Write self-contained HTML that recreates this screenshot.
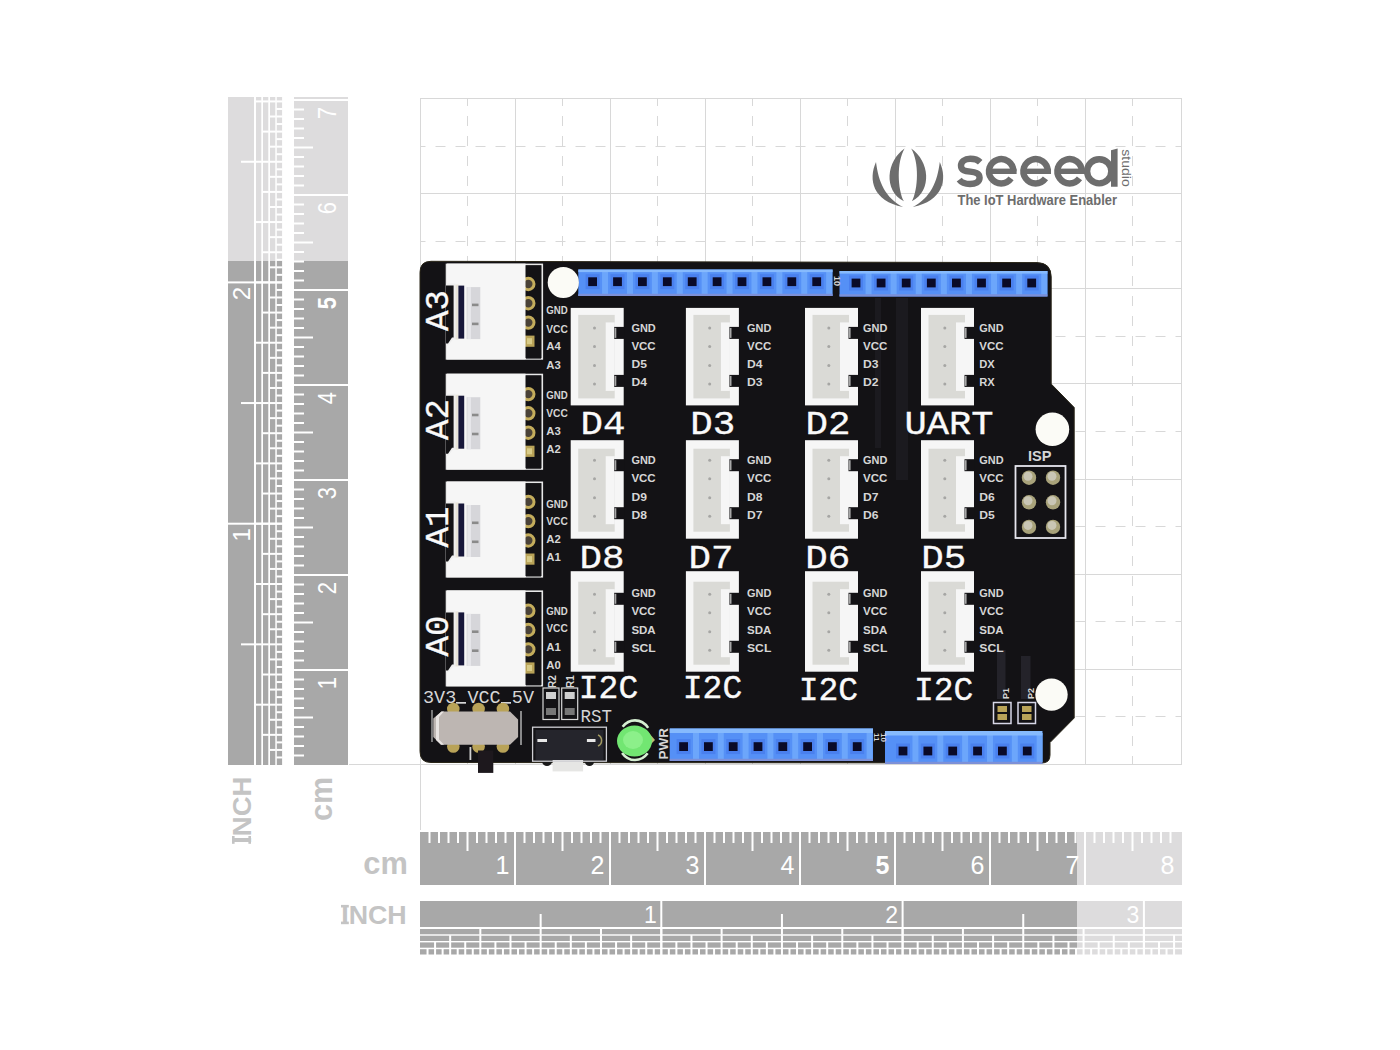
<!DOCTYPE html>
<html><head><meta charset="utf-8"><style>
html,body{margin:0;padding:0;background:#fff;width:1400px;height:1050px;overflow:hidden}
svg{display:block;font-family:"Liberation Sans",sans-serif}
</style></head><body>
<svg width="1400" height="1050" viewBox="0 0 1400 1050" font-family="Liberation Sans, sans-serif">
<rect width="1400" height="1050" fill="#fff"/>
<line x1="420.5" y1="98" x2="420.5" y2="830" stroke="#d8d8d8" stroke-width="1"/>
<line x1="515.5" y1="98" x2="515.5" y2="765" stroke="#d8d8d8" stroke-width="1"/>
<line x1="610.5" y1="98" x2="610.5" y2="765" stroke="#d8d8d8" stroke-width="1"/>
<line x1="705.5" y1="98" x2="705.5" y2="765" stroke="#d8d8d8" stroke-width="1"/>
<line x1="800.5" y1="98" x2="800.5" y2="765" stroke="#d8d8d8" stroke-width="1"/>
<line x1="895.5" y1="98" x2="895.5" y2="765" stroke="#d8d8d8" stroke-width="1"/>
<line x1="990.5" y1="98" x2="990.5" y2="765" stroke="#d8d8d8" stroke-width="1"/>
<line x1="1085.5" y1="98" x2="1085.5" y2="765" stroke="#d8d8d8" stroke-width="1"/>
<line x1="1181.5" y1="98" x2="1181.5" y2="765" stroke="#d8d8d8" stroke-width="1"/>
<line x1="349" y1="764.5" x2="1182.0" y2="764.5" stroke="#d8d8d8" stroke-width="1"/>
<line x1="420.5" y1="669.5" x2="1182.0" y2="669.5" stroke="#d8d8d8" stroke-width="1"/>
<line x1="420.5" y1="574.5" x2="1182.0" y2="574.5" stroke="#d8d8d8" stroke-width="1"/>
<line x1="420.5" y1="479.5" x2="1182.0" y2="479.5" stroke="#d8d8d8" stroke-width="1"/>
<line x1="420.5" y1="383.5" x2="1182.0" y2="383.5" stroke="#d8d8d8" stroke-width="1"/>
<line x1="420.5" y1="288.5" x2="1182.0" y2="288.5" stroke="#d8d8d8" stroke-width="1"/>
<line x1="420.5" y1="193.5" x2="1182.0" y2="193.5" stroke="#d8d8d8" stroke-width="1"/>
<line x1="420.5" y1="98.5" x2="1182.0" y2="98.5" stroke="#d8d8d8" stroke-width="1"/>
<line x1="467.5" y1="98" x2="467.5" y2="764" stroke="#d8d8d8" stroke-width="1" stroke-dasharray="10 10" stroke-dashoffset="-18"/>
<line x1="562.5" y1="98" x2="562.5" y2="764" stroke="#d8d8d8" stroke-width="1" stroke-dasharray="10 10" stroke-dashoffset="-18"/>
<line x1="657.5" y1="98" x2="657.5" y2="764" stroke="#d8d8d8" stroke-width="1" stroke-dasharray="10 10" stroke-dashoffset="-18"/>
<line x1="752.5" y1="98" x2="752.5" y2="764" stroke="#d8d8d8" stroke-width="1" stroke-dasharray="10 10" stroke-dashoffset="-18"/>
<line x1="847.5" y1="98" x2="847.5" y2="764" stroke="#d8d8d8" stroke-width="1" stroke-dasharray="10 10" stroke-dashoffset="-18"/>
<line x1="942.5" y1="98" x2="942.5" y2="764" stroke="#d8d8d8" stroke-width="1" stroke-dasharray="10 10" stroke-dashoffset="-18"/>
<line x1="1037.5" y1="98" x2="1037.5" y2="764" stroke="#d8d8d8" stroke-width="1" stroke-dasharray="10 10" stroke-dashoffset="-18"/>
<line x1="1132.5" y1="98" x2="1132.5" y2="764" stroke="#d8d8d8" stroke-width="1" stroke-dasharray="10 10" stroke-dashoffset="-18"/>
<line x1="420.5" y1="716.5" x2="1181.5" y2="716.5" stroke="#d8d8d8" stroke-width="1" stroke-dasharray="10 10" stroke-dashoffset="-15"/>
<line x1="420.5" y1="621.5" x2="1181.5" y2="621.5" stroke="#d8d8d8" stroke-width="1" stroke-dasharray="10 10" stroke-dashoffset="-15"/>
<line x1="420.5" y1="526.5" x2="1181.5" y2="526.5" stroke="#d8d8d8" stroke-width="1" stroke-dasharray="10 10" stroke-dashoffset="-15"/>
<line x1="420.5" y1="431.5" x2="1181.5" y2="431.5" stroke="#d8d8d8" stroke-width="1" stroke-dasharray="10 10" stroke-dashoffset="-15"/>
<line x1="420.5" y1="336.5" x2="1181.5" y2="336.5" stroke="#d8d8d8" stroke-width="1" stroke-dasharray="10 10" stroke-dashoffset="-15"/>
<line x1="420.5" y1="241.5" x2="1181.5" y2="241.5" stroke="#d8d8d8" stroke-width="1" stroke-dasharray="10 10" stroke-dashoffset="-15"/>
<line x1="420.5" y1="146.5" x2="1181.5" y2="146.5" stroke="#d8d8d8" stroke-width="1" stroke-dasharray="10 10" stroke-dashoffset="-15"/>
<rect x="228" y="97" width="26" height="164" fill="#dddcdd"/>
<rect x="228" y="261" width="26" height="504" fill="#a8a8a8"/>
<rect x="256" y="97" width="5.3" height="164" fill="#dddcdd"/>
<rect x="256" y="261" width="5.3" height="504" fill="#a8a8a8"/>
<rect x="255.5" y="703.67" width="6.3" height="2" fill="#ffffff"/>
<rect x="255.5" y="643.35" width="6.3" height="2" fill="#ffffff"/>
<rect x="255.5" y="583.02" width="6.3" height="2" fill="#ffffff"/>
<rect x="255.5" y="522.7" width="6.3" height="2" fill="#ffffff"/>
<rect x="255.5" y="462.38" width="6.3" height="2" fill="#ffffff"/>
<rect x="255.5" y="402.05" width="6.3" height="2" fill="#ffffff"/>
<rect x="255.5" y="341.72" width="6.3" height="2" fill="#ffffff"/>
<rect x="255.5" y="281.4" width="6.3" height="2" fill="#ffffff"/>
<rect x="255.5" y="221.07" width="6.3" height="2" fill="#ffffff"/>
<rect x="255.5" y="160.75" width="6.3" height="2" fill="#ffffff"/>
<rect x="255.5" y="100.42" width="6.3" height="2" fill="#ffffff"/>
<rect x="263" y="97" width="5.3" height="164" fill="#dddcdd"/>
<rect x="263" y="261" width="5.3" height="504" fill="#a8a8a8"/>
<rect x="262.5" y="733.84" width="6.3" height="2" fill="#ffffff"/>
<rect x="262.5" y="703.67" width="6.3" height="2" fill="#ffffff"/>
<rect x="262.5" y="673.51" width="6.3" height="2" fill="#ffffff"/>
<rect x="262.5" y="643.35" width="6.3" height="2" fill="#ffffff"/>
<rect x="262.5" y="613.19" width="6.3" height="2" fill="#ffffff"/>
<rect x="262.5" y="583.02" width="6.3" height="2" fill="#ffffff"/>
<rect x="262.5" y="552.86" width="6.3" height="2" fill="#ffffff"/>
<rect x="262.5" y="522.7" width="6.3" height="2" fill="#ffffff"/>
<rect x="262.5" y="492.54" width="6.3" height="2" fill="#ffffff"/>
<rect x="262.5" y="462.38" width="6.3" height="2" fill="#ffffff"/>
<rect x="262.5" y="432.21" width="6.3" height="2" fill="#ffffff"/>
<rect x="262.5" y="402.05" width="6.3" height="2" fill="#ffffff"/>
<rect x="262.5" y="371.89" width="6.3" height="2" fill="#ffffff"/>
<rect x="262.5" y="341.72" width="6.3" height="2" fill="#ffffff"/>
<rect x="262.5" y="311.56" width="6.3" height="2" fill="#ffffff"/>
<rect x="262.5" y="281.4" width="6.3" height="2" fill="#ffffff"/>
<rect x="262.5" y="251.24" width="6.3" height="2" fill="#ffffff"/>
<rect x="262.5" y="221.07" width="6.3" height="2" fill="#ffffff"/>
<rect x="262.5" y="190.91" width="6.3" height="2" fill="#ffffff"/>
<rect x="262.5" y="160.75" width="6.3" height="2" fill="#ffffff"/>
<rect x="262.5" y="130.59" width="6.3" height="2" fill="#ffffff"/>
<rect x="262.5" y="100.42" width="6.3" height="2" fill="#ffffff"/>
<rect x="270" y="97" width="5.3" height="164" fill="#dddcdd"/>
<rect x="270" y="261" width="5.3" height="504" fill="#a8a8a8"/>
<rect x="269.5" y="748.92" width="6.3" height="2" fill="#ffffff"/>
<rect x="269.5" y="733.84" width="6.3" height="2" fill="#ffffff"/>
<rect x="269.5" y="718.76" width="6.3" height="2" fill="#ffffff"/>
<rect x="269.5" y="703.67" width="6.3" height="2" fill="#ffffff"/>
<rect x="269.5" y="688.59" width="6.3" height="2" fill="#ffffff"/>
<rect x="269.5" y="673.51" width="6.3" height="2" fill="#ffffff"/>
<rect x="269.5" y="658.43" width="6.3" height="2" fill="#ffffff"/>
<rect x="269.5" y="643.35" width="6.3" height="2" fill="#ffffff"/>
<rect x="269.5" y="628.27" width="6.3" height="2" fill="#ffffff"/>
<rect x="269.5" y="613.19" width="6.3" height="2" fill="#ffffff"/>
<rect x="269.5" y="598.11" width="6.3" height="2" fill="#ffffff"/>
<rect x="269.5" y="583.02" width="6.3" height="2" fill="#ffffff"/>
<rect x="269.5" y="567.94" width="6.3" height="2" fill="#ffffff"/>
<rect x="269.5" y="552.86" width="6.3" height="2" fill="#ffffff"/>
<rect x="269.5" y="537.78" width="6.3" height="2" fill="#ffffff"/>
<rect x="269.5" y="522.7" width="6.3" height="2" fill="#ffffff"/>
<rect x="269.5" y="507.62" width="6.3" height="2" fill="#ffffff"/>
<rect x="269.5" y="492.54" width="6.3" height="2" fill="#ffffff"/>
<rect x="269.5" y="477.46" width="6.3" height="2" fill="#ffffff"/>
<rect x="269.5" y="462.38" width="6.3" height="2" fill="#ffffff"/>
<rect x="269.5" y="447.29" width="6.3" height="2" fill="#ffffff"/>
<rect x="269.5" y="432.21" width="6.3" height="2" fill="#ffffff"/>
<rect x="269.5" y="417.13" width="6.3" height="2" fill="#ffffff"/>
<rect x="269.5" y="402.05" width="6.3" height="2" fill="#ffffff"/>
<rect x="269.5" y="386.97" width="6.3" height="2" fill="#ffffff"/>
<rect x="269.5" y="371.89" width="6.3" height="2" fill="#ffffff"/>
<rect x="269.5" y="356.81" width="6.3" height="2" fill="#ffffff"/>
<rect x="269.5" y="341.72" width="6.3" height="2" fill="#ffffff"/>
<rect x="269.5" y="326.64" width="6.3" height="2" fill="#ffffff"/>
<rect x="269.5" y="311.56" width="6.3" height="2" fill="#ffffff"/>
<rect x="269.5" y="296.48" width="6.3" height="2" fill="#ffffff"/>
<rect x="269.5" y="281.4" width="6.3" height="2" fill="#ffffff"/>
<rect x="269.5" y="266.32" width="6.3" height="2" fill="#ffffff"/>
<rect x="269.5" y="251.24" width="6.3" height="2" fill="#ffffff"/>
<rect x="269.5" y="236.16" width="6.3" height="2" fill="#ffffff"/>
<rect x="269.5" y="221.07" width="6.3" height="2" fill="#ffffff"/>
<rect x="269.5" y="205.99" width="6.3" height="2" fill="#ffffff"/>
<rect x="269.5" y="190.91" width="6.3" height="2" fill="#ffffff"/>
<rect x="269.5" y="175.83" width="6.3" height="2" fill="#ffffff"/>
<rect x="269.5" y="160.75" width="6.3" height="2" fill="#ffffff"/>
<rect x="269.5" y="145.67" width="6.3" height="2" fill="#ffffff"/>
<rect x="269.5" y="130.59" width="6.3" height="2" fill="#ffffff"/>
<rect x="269.5" y="115.51" width="6.3" height="2" fill="#ffffff"/>
<rect x="269.5" y="100.42" width="6.3" height="2" fill="#ffffff"/>
<rect x="276.8" y="97" width="5.3" height="164" fill="#dddcdd"/>
<rect x="276.8" y="261" width="5.3" height="504" fill="#a8a8a8"/>
<rect x="276.3" y="756.46" width="6.3" height="2" fill="#ffffff"/>
<rect x="276.3" y="748.92" width="6.3" height="2" fill="#ffffff"/>
<rect x="276.3" y="741.38" width="6.3" height="2" fill="#ffffff"/>
<rect x="276.3" y="733.84" width="6.3" height="2" fill="#ffffff"/>
<rect x="276.3" y="726.3" width="6.3" height="2" fill="#ffffff"/>
<rect x="276.3" y="718.76" width="6.3" height="2" fill="#ffffff"/>
<rect x="276.3" y="711.22" width="6.3" height="2" fill="#ffffff"/>
<rect x="276.3" y="703.67" width="6.3" height="2" fill="#ffffff"/>
<rect x="276.3" y="696.13" width="6.3" height="2" fill="#ffffff"/>
<rect x="276.3" y="688.59" width="6.3" height="2" fill="#ffffff"/>
<rect x="276.3" y="681.05" width="6.3" height="2" fill="#ffffff"/>
<rect x="276.3" y="673.51" width="6.3" height="2" fill="#ffffff"/>
<rect x="276.3" y="665.97" width="6.3" height="2" fill="#ffffff"/>
<rect x="276.3" y="658.43" width="6.3" height="2" fill="#ffffff"/>
<rect x="276.3" y="650.89" width="6.3" height="2" fill="#ffffff"/>
<rect x="276.3" y="643.35" width="6.3" height="2" fill="#ffffff"/>
<rect x="276.3" y="635.81" width="6.3" height="2" fill="#ffffff"/>
<rect x="276.3" y="628.27" width="6.3" height="2" fill="#ffffff"/>
<rect x="276.3" y="620.73" width="6.3" height="2" fill="#ffffff"/>
<rect x="276.3" y="613.19" width="6.3" height="2" fill="#ffffff"/>
<rect x="276.3" y="605.65" width="6.3" height="2" fill="#ffffff"/>
<rect x="276.3" y="598.11" width="6.3" height="2" fill="#ffffff"/>
<rect x="276.3" y="590.57" width="6.3" height="2" fill="#ffffff"/>
<rect x="276.3" y="583.02" width="6.3" height="2" fill="#ffffff"/>
<rect x="276.3" y="575.48" width="6.3" height="2" fill="#ffffff"/>
<rect x="276.3" y="567.94" width="6.3" height="2" fill="#ffffff"/>
<rect x="276.3" y="560.4" width="6.3" height="2" fill="#ffffff"/>
<rect x="276.3" y="552.86" width="6.3" height="2" fill="#ffffff"/>
<rect x="276.3" y="545.32" width="6.3" height="2" fill="#ffffff"/>
<rect x="276.3" y="537.78" width="6.3" height="2" fill="#ffffff"/>
<rect x="276.3" y="530.24" width="6.3" height="2" fill="#ffffff"/>
<rect x="276.3" y="522.7" width="6.3" height="2" fill="#ffffff"/>
<rect x="276.3" y="515.16" width="6.3" height="2" fill="#ffffff"/>
<rect x="276.3" y="507.62" width="6.3" height="2" fill="#ffffff"/>
<rect x="276.3" y="500.08" width="6.3" height="2" fill="#ffffff"/>
<rect x="276.3" y="492.54" width="6.3" height="2" fill="#ffffff"/>
<rect x="276.3" y="485" width="6.3" height="2" fill="#ffffff"/>
<rect x="276.3" y="477.46" width="6.3" height="2" fill="#ffffff"/>
<rect x="276.3" y="469.92" width="6.3" height="2" fill="#ffffff"/>
<rect x="276.3" y="462.38" width="6.3" height="2" fill="#ffffff"/>
<rect x="276.3" y="454.83" width="6.3" height="2" fill="#ffffff"/>
<rect x="276.3" y="447.29" width="6.3" height="2" fill="#ffffff"/>
<rect x="276.3" y="439.75" width="6.3" height="2" fill="#ffffff"/>
<rect x="276.3" y="432.21" width="6.3" height="2" fill="#ffffff"/>
<rect x="276.3" y="424.67" width="6.3" height="2" fill="#ffffff"/>
<rect x="276.3" y="417.13" width="6.3" height="2" fill="#ffffff"/>
<rect x="276.3" y="409.59" width="6.3" height="2" fill="#ffffff"/>
<rect x="276.3" y="402.05" width="6.3" height="2" fill="#ffffff"/>
<rect x="276.3" y="394.51" width="6.3" height="2" fill="#ffffff"/>
<rect x="276.3" y="386.97" width="6.3" height="2" fill="#ffffff"/>
<rect x="276.3" y="379.43" width="6.3" height="2" fill="#ffffff"/>
<rect x="276.3" y="371.89" width="6.3" height="2" fill="#ffffff"/>
<rect x="276.3" y="364.35" width="6.3" height="2" fill="#ffffff"/>
<rect x="276.3" y="356.81" width="6.3" height="2" fill="#ffffff"/>
<rect x="276.3" y="349.27" width="6.3" height="2" fill="#ffffff"/>
<rect x="276.3" y="341.72" width="6.3" height="2" fill="#ffffff"/>
<rect x="276.3" y="334.18" width="6.3" height="2" fill="#ffffff"/>
<rect x="276.3" y="326.64" width="6.3" height="2" fill="#ffffff"/>
<rect x="276.3" y="319.1" width="6.3" height="2" fill="#ffffff"/>
<rect x="276.3" y="311.56" width="6.3" height="2" fill="#ffffff"/>
<rect x="276.3" y="304.02" width="6.3" height="2" fill="#ffffff"/>
<rect x="276.3" y="296.48" width="6.3" height="2" fill="#ffffff"/>
<rect x="276.3" y="288.94" width="6.3" height="2" fill="#ffffff"/>
<rect x="276.3" y="281.4" width="6.3" height="2" fill="#ffffff"/>
<rect x="276.3" y="273.86" width="6.3" height="2" fill="#ffffff"/>
<rect x="276.3" y="266.32" width="6.3" height="2" fill="#ffffff"/>
<rect x="276.3" y="258.78" width="6.3" height="2" fill="#ffffff"/>
<rect x="276.3" y="251.24" width="6.3" height="2" fill="#ffffff"/>
<rect x="276.3" y="243.7" width="6.3" height="2" fill="#ffffff"/>
<rect x="276.3" y="236.16" width="6.3" height="2" fill="#ffffff"/>
<rect x="276.3" y="228.62" width="6.3" height="2" fill="#ffffff"/>
<rect x="276.3" y="221.07" width="6.3" height="2" fill="#ffffff"/>
<rect x="276.3" y="213.53" width="6.3" height="2" fill="#ffffff"/>
<rect x="276.3" y="205.99" width="6.3" height="2" fill="#ffffff"/>
<rect x="276.3" y="198.45" width="6.3" height="2" fill="#ffffff"/>
<rect x="276.3" y="190.91" width="6.3" height="2" fill="#ffffff"/>
<rect x="276.3" y="183.37" width="6.3" height="2" fill="#ffffff"/>
<rect x="276.3" y="175.83" width="6.3" height="2" fill="#ffffff"/>
<rect x="276.3" y="168.29" width="6.3" height="2" fill="#ffffff"/>
<rect x="276.3" y="160.75" width="6.3" height="2" fill="#ffffff"/>
<rect x="276.3" y="153.21" width="6.3" height="2" fill="#ffffff"/>
<rect x="276.3" y="145.67" width="6.3" height="2" fill="#ffffff"/>
<rect x="276.3" y="138.13" width="6.3" height="2" fill="#ffffff"/>
<rect x="276.3" y="130.59" width="6.3" height="2" fill="#ffffff"/>
<rect x="276.3" y="123.05" width="6.3" height="2" fill="#ffffff"/>
<rect x="276.3" y="115.51" width="6.3" height="2" fill="#ffffff"/>
<rect x="276.3" y="107.97" width="6.3" height="2" fill="#ffffff"/>
<rect x="276.3" y="100.42" width="6.3" height="2" fill="#ffffff"/>
<rect x="228" y="522.7" width="54.5" height="2" fill="#ffffff"/>
<rect x="228" y="281.4" width="54.5" height="2" fill="#ffffff"/>
<rect x="241" y="643.35" width="13" height="2" fill="#ffffff"/>
<rect x="241" y="402.05" width="13" height="2" fill="#ffffff"/>
<rect x="241" y="160.75" width="13" height="2" fill="#ffffff"/>
<text transform="translate(249.7,528.2) rotate(-90)" text-anchor="end" font-size="24" fill="#fff">1</text>
<text transform="translate(249.7,286.9) rotate(-90)" text-anchor="end" font-size="24" fill="#fff">2</text>
<rect x="294" y="97" width="54" height="164" fill="#dddcdd"/>
<rect x="294" y="261" width="54" height="504" fill="#a8a8a8"/>
<rect x="294" y="754.5" width="10" height="2" fill="#ffffff"/>
<rect x="294" y="745" width="10" height="2" fill="#ffffff"/>
<rect x="294" y="735.5" width="10" height="2" fill="#ffffff"/>
<rect x="294" y="726" width="10" height="2" fill="#ffffff"/>
<rect x="294" y="716.5" width="19" height="2" fill="#ffffff"/>
<rect x="294" y="707" width="10" height="2" fill="#ffffff"/>
<rect x="294" y="697.5" width="10" height="2" fill="#ffffff"/>
<rect x="294" y="688" width="10" height="2" fill="#ffffff"/>
<rect x="294" y="678.5" width="10" height="2" fill="#ffffff"/>
<rect x="294" y="669" width="54" height="2" fill="#ffffff"/>
<rect x="294" y="659.5" width="10" height="2" fill="#ffffff"/>
<rect x="294" y="650" width="10" height="2" fill="#ffffff"/>
<rect x="294" y="640.5" width="10" height="2" fill="#ffffff"/>
<rect x="294" y="631" width="10" height="2" fill="#ffffff"/>
<rect x="294" y="621.5" width="19" height="2" fill="#ffffff"/>
<rect x="294" y="612" width="10" height="2" fill="#ffffff"/>
<rect x="294" y="602.5" width="10" height="2" fill="#ffffff"/>
<rect x="294" y="593" width="10" height="2" fill="#ffffff"/>
<rect x="294" y="583.5" width="10" height="2" fill="#ffffff"/>
<rect x="294" y="574" width="54" height="2" fill="#ffffff"/>
<rect x="294" y="564.5" width="10" height="2" fill="#ffffff"/>
<rect x="294" y="555" width="10" height="2" fill="#ffffff"/>
<rect x="294" y="545.5" width="10" height="2" fill="#ffffff"/>
<rect x="294" y="536" width="10" height="2" fill="#ffffff"/>
<rect x="294" y="526.5" width="19" height="2" fill="#ffffff"/>
<rect x="294" y="517" width="10" height="2" fill="#ffffff"/>
<rect x="294" y="507.5" width="10" height="2" fill="#ffffff"/>
<rect x="294" y="498" width="10" height="2" fill="#ffffff"/>
<rect x="294" y="488.5" width="10" height="2" fill="#ffffff"/>
<rect x="294" y="479" width="54" height="2" fill="#ffffff"/>
<rect x="294" y="469.5" width="10" height="2" fill="#ffffff"/>
<rect x="294" y="460" width="10" height="2" fill="#ffffff"/>
<rect x="294" y="450.5" width="10" height="2" fill="#ffffff"/>
<rect x="294" y="441" width="10" height="2" fill="#ffffff"/>
<rect x="294" y="431.5" width="19" height="2" fill="#ffffff"/>
<rect x="294" y="422" width="10" height="2" fill="#ffffff"/>
<rect x="294" y="412.5" width="10" height="2" fill="#ffffff"/>
<rect x="294" y="403" width="10" height="2" fill="#ffffff"/>
<rect x="294" y="393.5" width="10" height="2" fill="#ffffff"/>
<rect x="294" y="384" width="54" height="2" fill="#ffffff"/>
<rect x="294" y="374.5" width="10" height="2" fill="#ffffff"/>
<rect x="294" y="365" width="10" height="2" fill="#ffffff"/>
<rect x="294" y="355.5" width="10" height="2" fill="#ffffff"/>
<rect x="294" y="346" width="10" height="2" fill="#ffffff"/>
<rect x="294" y="336.5" width="19" height="2" fill="#ffffff"/>
<rect x="294" y="327" width="10" height="2" fill="#ffffff"/>
<rect x="294" y="317.5" width="10" height="2" fill="#ffffff"/>
<rect x="294" y="308" width="10" height="2" fill="#ffffff"/>
<rect x="294" y="298.5" width="10" height="2" fill="#ffffff"/>
<rect x="294" y="289" width="54" height="2" fill="#ffffff"/>
<rect x="294" y="279.5" width="10" height="2" fill="#ffffff"/>
<rect x="294" y="270" width="10" height="2" fill="#ffffff"/>
<rect x="294" y="260.5" width="10" height="2" fill="#ffffff"/>
<rect x="294" y="251" width="10" height="2" fill="#ffffff"/>
<rect x="294" y="241.5" width="19" height="2" fill="#ffffff"/>
<rect x="294" y="232" width="10" height="2" fill="#ffffff"/>
<rect x="294" y="222.5" width="10" height="2" fill="#ffffff"/>
<rect x="294" y="213" width="10" height="2" fill="#ffffff"/>
<rect x="294" y="203.5" width="10" height="2" fill="#ffffff"/>
<rect x="294" y="194" width="54" height="2" fill="#ffffff"/>
<rect x="294" y="184.5" width="10" height="2" fill="#ffffff"/>
<rect x="294" y="175" width="10" height="2" fill="#ffffff"/>
<rect x="294" y="165.5" width="10" height="2" fill="#ffffff"/>
<rect x="294" y="156" width="10" height="2" fill="#ffffff"/>
<rect x="294" y="146.5" width="19" height="2" fill="#ffffff"/>
<rect x="294" y="137" width="10" height="2" fill="#ffffff"/>
<rect x="294" y="127.5" width="10" height="2" fill="#ffffff"/>
<rect x="294" y="118" width="10" height="2" fill="#ffffff"/>
<rect x="294" y="108.5" width="10" height="2" fill="#ffffff"/>
<rect x="294" y="99" width="54" height="2" fill="#ffffff"/>
<text transform="translate(335.5,677) rotate(-90) scale(0.88,1)" text-anchor="end" font-size="25" fill="#fff">1</text>
<text transform="translate(335.5,582) rotate(-90) scale(0.88,1)" text-anchor="end" font-size="25" fill="#fff">2</text>
<text transform="translate(335.5,487) rotate(-90) scale(0.88,1)" text-anchor="end" font-size="25" fill="#fff">3</text>
<text transform="translate(335.5,392) rotate(-90) scale(0.88,1)" text-anchor="end" font-size="25" fill="#fff">4</text>
<text transform="translate(335.5,297) rotate(-90) scale(0.88,1)" text-anchor="end" font-size="25" font-weight="bold" fill="#fff">5</text>
<text transform="translate(335.5,202) rotate(-90) scale(0.88,1)" text-anchor="end" font-size="25" fill="#fff">6</text>
<text transform="translate(335.5,107) rotate(-90) scale(0.88,1)" text-anchor="end" font-size="25" fill="#fff">7</text>
<rect x="420" y="832" width="657" height="53" fill="#a8a8a8"/>
<rect x="1077" y="832" width="105" height="53" fill="#dddcdd"/>
<rect x="428.5" y="832" width="2" height="11" fill="#ffffff"/>
<rect x="438" y="832" width="2" height="11" fill="#ffffff"/>
<rect x="447.5" y="832" width="2" height="11" fill="#ffffff"/>
<rect x="457" y="832" width="2" height="11" fill="#ffffff"/>
<rect x="466.5" y="832" width="2" height="19" fill="#ffffff"/>
<rect x="476" y="832" width="2" height="11" fill="#ffffff"/>
<rect x="485.5" y="832" width="2" height="11" fill="#ffffff"/>
<rect x="495" y="832" width="2" height="11" fill="#ffffff"/>
<rect x="504.5" y="832" width="2" height="11" fill="#ffffff"/>
<rect x="514" y="832" width="2" height="53" fill="#ffffff"/>
<rect x="523.5" y="832" width="2" height="11" fill="#ffffff"/>
<rect x="533" y="832" width="2" height="11" fill="#ffffff"/>
<rect x="542.5" y="832" width="2" height="11" fill="#ffffff"/>
<rect x="552" y="832" width="2" height="11" fill="#ffffff"/>
<rect x="561.5" y="832" width="2" height="19" fill="#ffffff"/>
<rect x="571" y="832" width="2" height="11" fill="#ffffff"/>
<rect x="580.5" y="832" width="2" height="11" fill="#ffffff"/>
<rect x="590" y="832" width="2" height="11" fill="#ffffff"/>
<rect x="599.5" y="832" width="2" height="11" fill="#ffffff"/>
<rect x="609" y="832" width="2" height="53" fill="#ffffff"/>
<rect x="618.5" y="832" width="2" height="11" fill="#ffffff"/>
<rect x="628" y="832" width="2" height="11" fill="#ffffff"/>
<rect x="637.5" y="832" width="2" height="11" fill="#ffffff"/>
<rect x="647" y="832" width="2" height="11" fill="#ffffff"/>
<rect x="656.5" y="832" width="2" height="19" fill="#ffffff"/>
<rect x="666" y="832" width="2" height="11" fill="#ffffff"/>
<rect x="675.5" y="832" width="2" height="11" fill="#ffffff"/>
<rect x="685" y="832" width="2" height="11" fill="#ffffff"/>
<rect x="694.5" y="832" width="2" height="11" fill="#ffffff"/>
<rect x="704" y="832" width="2" height="53" fill="#ffffff"/>
<rect x="713.5" y="832" width="2" height="11" fill="#ffffff"/>
<rect x="723" y="832" width="2" height="11" fill="#ffffff"/>
<rect x="732.5" y="832" width="2" height="11" fill="#ffffff"/>
<rect x="742" y="832" width="2" height="11" fill="#ffffff"/>
<rect x="751.5" y="832" width="2" height="19" fill="#ffffff"/>
<rect x="761" y="832" width="2" height="11" fill="#ffffff"/>
<rect x="770.5" y="832" width="2" height="11" fill="#ffffff"/>
<rect x="780" y="832" width="2" height="11" fill="#ffffff"/>
<rect x="789.5" y="832" width="2" height="11" fill="#ffffff"/>
<rect x="799" y="832" width="2" height="53" fill="#ffffff"/>
<rect x="808.5" y="832" width="2" height="11" fill="#ffffff"/>
<rect x="818" y="832" width="2" height="11" fill="#ffffff"/>
<rect x="827.5" y="832" width="2" height="11" fill="#ffffff"/>
<rect x="837" y="832" width="2" height="11" fill="#ffffff"/>
<rect x="846.5" y="832" width="2" height="19" fill="#ffffff"/>
<rect x="856" y="832" width="2" height="11" fill="#ffffff"/>
<rect x="865.5" y="832" width="2" height="11" fill="#ffffff"/>
<rect x="875" y="832" width="2" height="11" fill="#ffffff"/>
<rect x="884.5" y="832" width="2" height="11" fill="#ffffff"/>
<rect x="894" y="832" width="2" height="53" fill="#ffffff"/>
<rect x="903.5" y="832" width="2" height="11" fill="#ffffff"/>
<rect x="913" y="832" width="2" height="11" fill="#ffffff"/>
<rect x="922.5" y="832" width="2" height="11" fill="#ffffff"/>
<rect x="932" y="832" width="2" height="11" fill="#ffffff"/>
<rect x="941.5" y="832" width="2" height="19" fill="#ffffff"/>
<rect x="951" y="832" width="2" height="11" fill="#ffffff"/>
<rect x="960.5" y="832" width="2" height="11" fill="#ffffff"/>
<rect x="970" y="832" width="2" height="11" fill="#ffffff"/>
<rect x="979.5" y="832" width="2" height="11" fill="#ffffff"/>
<rect x="989" y="832" width="2" height="53" fill="#ffffff"/>
<rect x="998.5" y="832" width="2" height="11" fill="#ffffff"/>
<rect x="1008" y="832" width="2" height="11" fill="#ffffff"/>
<rect x="1017.5" y="832" width="2" height="11" fill="#ffffff"/>
<rect x="1027" y="832" width="2" height="11" fill="#ffffff"/>
<rect x="1036.5" y="832" width="2" height="19" fill="#ffffff"/>
<rect x="1046" y="832" width="2" height="11" fill="#ffffff"/>
<rect x="1055.5" y="832" width="2" height="11" fill="#ffffff"/>
<rect x="1065" y="832" width="2" height="11" fill="#ffffff"/>
<rect x="1074.5" y="832" width="2" height="11" fill="#ffffff"/>
<rect x="1084" y="832" width="2" height="53" fill="#ffffff"/>
<rect x="1093.5" y="832" width="2" height="11" fill="#ffffff"/>
<rect x="1103" y="832" width="2" height="11" fill="#ffffff"/>
<rect x="1112.5" y="832" width="2" height="11" fill="#ffffff"/>
<rect x="1122" y="832" width="2" height="11" fill="#ffffff"/>
<rect x="1131.5" y="832" width="2" height="19" fill="#ffffff"/>
<rect x="1141" y="832" width="2" height="11" fill="#ffffff"/>
<rect x="1150.5" y="832" width="2" height="11" fill="#ffffff"/>
<rect x="1160" y="832" width="2" height="11" fill="#ffffff"/>
<rect x="1169.5" y="832" width="2" height="11" fill="#ffffff"/>
<text x="509.5" y="873.5" text-anchor="end" font-size="25" fill="#fff">1</text>
<text x="604.5" y="873.5" text-anchor="end" font-size="25" fill="#fff">2</text>
<text x="699.5" y="873.5" text-anchor="end" font-size="25" fill="#fff">3</text>
<text x="794.5" y="873.5" text-anchor="end" font-size="25" fill="#fff">4</text>
<text x="889.5" y="873.5" text-anchor="end" font-size="25" font-weight="bold" fill="#fff">5</text>
<text x="984.5" y="873.5" text-anchor="end" font-size="25" fill="#fff">6</text>
<text x="1079.5" y="873.5" text-anchor="end" font-size="25" fill="#fff">7</text>
<text x="1174.5" y="873.5" text-anchor="end" font-size="25" fill="#fff">8</text>
<rect x="420" y="901" width="657" height="26" fill="#a8a8a8"/>
<rect x="1077" y="901" width="105" height="26" fill="#dddcdd"/>
<rect x="420" y="929" width="657" height="5.3" fill="#a8a8a8"/>
<rect x="1077" y="929" width="105" height="5.3" fill="#dddcdd"/>
<rect x="479.32" y="928.5" width="2" height="6.3" fill="#ffffff"/>
<rect x="539.65" y="928.5" width="2" height="6.3" fill="#ffffff"/>
<rect x="599.98" y="928.5" width="2" height="6.3" fill="#ffffff"/>
<rect x="660.3" y="928.5" width="2" height="6.3" fill="#ffffff"/>
<rect x="720.62" y="928.5" width="2" height="6.3" fill="#ffffff"/>
<rect x="780.95" y="928.5" width="2" height="6.3" fill="#ffffff"/>
<rect x="841.28" y="928.5" width="2" height="6.3" fill="#ffffff"/>
<rect x="901.6" y="928.5" width="2" height="6.3" fill="#ffffff"/>
<rect x="961.93" y="928.5" width="2" height="6.3" fill="#ffffff"/>
<rect x="1022.25" y="928.5" width="2" height="6.3" fill="#ffffff"/>
<rect x="1082.58" y="928.5" width="2" height="6.3" fill="#ffffff"/>
<rect x="1142.9" y="928.5" width="2" height="6.3" fill="#ffffff"/>
<rect x="420" y="935.7" width="657" height="5.3" fill="#a8a8a8"/>
<rect x="1077" y="935.7" width="105" height="5.3" fill="#dddcdd"/>
<rect x="449.16" y="935.2" width="2" height="6.3" fill="#ffffff"/>
<rect x="479.32" y="935.2" width="2" height="6.3" fill="#ffffff"/>
<rect x="509.49" y="935.2" width="2" height="6.3" fill="#ffffff"/>
<rect x="539.65" y="935.2" width="2" height="6.3" fill="#ffffff"/>
<rect x="569.81" y="935.2" width="2" height="6.3" fill="#ffffff"/>
<rect x="599.98" y="935.2" width="2" height="6.3" fill="#ffffff"/>
<rect x="630.14" y="935.2" width="2" height="6.3" fill="#ffffff"/>
<rect x="660.3" y="935.2" width="2" height="6.3" fill="#ffffff"/>
<rect x="690.46" y="935.2" width="2" height="6.3" fill="#ffffff"/>
<rect x="720.62" y="935.2" width="2" height="6.3" fill="#ffffff"/>
<rect x="750.79" y="935.2" width="2" height="6.3" fill="#ffffff"/>
<rect x="780.95" y="935.2" width="2" height="6.3" fill="#ffffff"/>
<rect x="811.11" y="935.2" width="2" height="6.3" fill="#ffffff"/>
<rect x="841.28" y="935.2" width="2" height="6.3" fill="#ffffff"/>
<rect x="871.44" y="935.2" width="2" height="6.3" fill="#ffffff"/>
<rect x="901.6" y="935.2" width="2" height="6.3" fill="#ffffff"/>
<rect x="931.76" y="935.2" width="2" height="6.3" fill="#ffffff"/>
<rect x="961.93" y="935.2" width="2" height="6.3" fill="#ffffff"/>
<rect x="992.09" y="935.2" width="2" height="6.3" fill="#ffffff"/>
<rect x="1022.25" y="935.2" width="2" height="6.3" fill="#ffffff"/>
<rect x="1052.41" y="935.2" width="2" height="6.3" fill="#ffffff"/>
<rect x="1082.58" y="935.2" width="2" height="6.3" fill="#ffffff"/>
<rect x="1112.74" y="935.2" width="2" height="6.3" fill="#ffffff"/>
<rect x="1142.9" y="935.2" width="2" height="6.3" fill="#ffffff"/>
<rect x="1173.06" y="935.2" width="2" height="6.3" fill="#ffffff"/>
<rect x="420" y="942.4" width="657" height="5.3" fill="#a8a8a8"/>
<rect x="1077" y="942.4" width="105" height="5.3" fill="#dddcdd"/>
<rect x="434.08" y="941.9" width="2" height="6.3" fill="#ffffff"/>
<rect x="449.16" y="941.9" width="2" height="6.3" fill="#ffffff"/>
<rect x="464.24" y="941.9" width="2" height="6.3" fill="#ffffff"/>
<rect x="479.32" y="941.9" width="2" height="6.3" fill="#ffffff"/>
<rect x="494.41" y="941.9" width="2" height="6.3" fill="#ffffff"/>
<rect x="509.49" y="941.9" width="2" height="6.3" fill="#ffffff"/>
<rect x="524.57" y="941.9" width="2" height="6.3" fill="#ffffff"/>
<rect x="539.65" y="941.9" width="2" height="6.3" fill="#ffffff"/>
<rect x="554.73" y="941.9" width="2" height="6.3" fill="#ffffff"/>
<rect x="569.81" y="941.9" width="2" height="6.3" fill="#ffffff"/>
<rect x="584.89" y="941.9" width="2" height="6.3" fill="#ffffff"/>
<rect x="599.98" y="941.9" width="2" height="6.3" fill="#ffffff"/>
<rect x="615.06" y="941.9" width="2" height="6.3" fill="#ffffff"/>
<rect x="630.14" y="941.9" width="2" height="6.3" fill="#ffffff"/>
<rect x="645.22" y="941.9" width="2" height="6.3" fill="#ffffff"/>
<rect x="660.3" y="941.9" width="2" height="6.3" fill="#ffffff"/>
<rect x="675.38" y="941.9" width="2" height="6.3" fill="#ffffff"/>
<rect x="690.46" y="941.9" width="2" height="6.3" fill="#ffffff"/>
<rect x="705.54" y="941.9" width="2" height="6.3" fill="#ffffff"/>
<rect x="720.62" y="941.9" width="2" height="6.3" fill="#ffffff"/>
<rect x="735.71" y="941.9" width="2" height="6.3" fill="#ffffff"/>
<rect x="750.79" y="941.9" width="2" height="6.3" fill="#ffffff"/>
<rect x="765.87" y="941.9" width="2" height="6.3" fill="#ffffff"/>
<rect x="780.95" y="941.9" width="2" height="6.3" fill="#ffffff"/>
<rect x="796.03" y="941.9" width="2" height="6.3" fill="#ffffff"/>
<rect x="811.11" y="941.9" width="2" height="6.3" fill="#ffffff"/>
<rect x="826.19" y="941.9" width="2" height="6.3" fill="#ffffff"/>
<rect x="841.28" y="941.9" width="2" height="6.3" fill="#ffffff"/>
<rect x="856.36" y="941.9" width="2" height="6.3" fill="#ffffff"/>
<rect x="871.44" y="941.9" width="2" height="6.3" fill="#ffffff"/>
<rect x="886.52" y="941.9" width="2" height="6.3" fill="#ffffff"/>
<rect x="901.6" y="941.9" width="2" height="6.3" fill="#ffffff"/>
<rect x="916.68" y="941.9" width="2" height="6.3" fill="#ffffff"/>
<rect x="931.76" y="941.9" width="2" height="6.3" fill="#ffffff"/>
<rect x="946.84" y="941.9" width="2" height="6.3" fill="#ffffff"/>
<rect x="961.93" y="941.9" width="2" height="6.3" fill="#ffffff"/>
<rect x="977.01" y="941.9" width="2" height="6.3" fill="#ffffff"/>
<rect x="992.09" y="941.9" width="2" height="6.3" fill="#ffffff"/>
<rect x="1007.17" y="941.9" width="2" height="6.3" fill="#ffffff"/>
<rect x="1022.25" y="941.9" width="2" height="6.3" fill="#ffffff"/>
<rect x="1037.33" y="941.9" width="2" height="6.3" fill="#ffffff"/>
<rect x="1052.41" y="941.9" width="2" height="6.3" fill="#ffffff"/>
<rect x="1067.49" y="941.9" width="2" height="6.3" fill="#ffffff"/>
<rect x="1082.58" y="941.9" width="2" height="6.3" fill="#ffffff"/>
<rect x="1097.66" y="941.9" width="2" height="6.3" fill="#ffffff"/>
<rect x="1112.74" y="941.9" width="2" height="6.3" fill="#ffffff"/>
<rect x="1127.82" y="941.9" width="2" height="6.3" fill="#ffffff"/>
<rect x="1142.9" y="941.9" width="2" height="6.3" fill="#ffffff"/>
<rect x="1157.98" y="941.9" width="2" height="6.3" fill="#ffffff"/>
<rect x="1173.06" y="941.9" width="2" height="6.3" fill="#ffffff"/>
<rect x="420" y="949.2" width="657" height="5.3" fill="#a8a8a8"/>
<rect x="1077" y="949.2" width="105" height="5.3" fill="#dddcdd"/>
<rect x="426.54" y="948.7" width="2" height="6.3" fill="#ffffff"/>
<rect x="434.08" y="948.7" width="2" height="6.3" fill="#ffffff"/>
<rect x="441.62" y="948.7" width="2" height="6.3" fill="#ffffff"/>
<rect x="449.16" y="948.7" width="2" height="6.3" fill="#ffffff"/>
<rect x="456.7" y="948.7" width="2" height="6.3" fill="#ffffff"/>
<rect x="464.24" y="948.7" width="2" height="6.3" fill="#ffffff"/>
<rect x="471.78" y="948.7" width="2" height="6.3" fill="#ffffff"/>
<rect x="479.32" y="948.7" width="2" height="6.3" fill="#ffffff"/>
<rect x="486.87" y="948.7" width="2" height="6.3" fill="#ffffff"/>
<rect x="494.41" y="948.7" width="2" height="6.3" fill="#ffffff"/>
<rect x="501.95" y="948.7" width="2" height="6.3" fill="#ffffff"/>
<rect x="509.49" y="948.7" width="2" height="6.3" fill="#ffffff"/>
<rect x="517.03" y="948.7" width="2" height="6.3" fill="#ffffff"/>
<rect x="524.57" y="948.7" width="2" height="6.3" fill="#ffffff"/>
<rect x="532.11" y="948.7" width="2" height="6.3" fill="#ffffff"/>
<rect x="539.65" y="948.7" width="2" height="6.3" fill="#ffffff"/>
<rect x="547.19" y="948.7" width="2" height="6.3" fill="#ffffff"/>
<rect x="554.73" y="948.7" width="2" height="6.3" fill="#ffffff"/>
<rect x="562.27" y="948.7" width="2" height="6.3" fill="#ffffff"/>
<rect x="569.81" y="948.7" width="2" height="6.3" fill="#ffffff"/>
<rect x="577.35" y="948.7" width="2" height="6.3" fill="#ffffff"/>
<rect x="584.89" y="948.7" width="2" height="6.3" fill="#ffffff"/>
<rect x="592.43" y="948.7" width="2" height="6.3" fill="#ffffff"/>
<rect x="599.98" y="948.7" width="2" height="6.3" fill="#ffffff"/>
<rect x="607.52" y="948.7" width="2" height="6.3" fill="#ffffff"/>
<rect x="615.06" y="948.7" width="2" height="6.3" fill="#ffffff"/>
<rect x="622.6" y="948.7" width="2" height="6.3" fill="#ffffff"/>
<rect x="630.14" y="948.7" width="2" height="6.3" fill="#ffffff"/>
<rect x="637.68" y="948.7" width="2" height="6.3" fill="#ffffff"/>
<rect x="645.22" y="948.7" width="2" height="6.3" fill="#ffffff"/>
<rect x="652.76" y="948.7" width="2" height="6.3" fill="#ffffff"/>
<rect x="660.3" y="948.7" width="2" height="6.3" fill="#ffffff"/>
<rect x="667.84" y="948.7" width="2" height="6.3" fill="#ffffff"/>
<rect x="675.38" y="948.7" width="2" height="6.3" fill="#ffffff"/>
<rect x="682.92" y="948.7" width="2" height="6.3" fill="#ffffff"/>
<rect x="690.46" y="948.7" width="2" height="6.3" fill="#ffffff"/>
<rect x="698" y="948.7" width="2" height="6.3" fill="#ffffff"/>
<rect x="705.54" y="948.7" width="2" height="6.3" fill="#ffffff"/>
<rect x="713.08" y="948.7" width="2" height="6.3" fill="#ffffff"/>
<rect x="720.62" y="948.7" width="2" height="6.3" fill="#ffffff"/>
<rect x="728.17" y="948.7" width="2" height="6.3" fill="#ffffff"/>
<rect x="735.71" y="948.7" width="2" height="6.3" fill="#ffffff"/>
<rect x="743.25" y="948.7" width="2" height="6.3" fill="#ffffff"/>
<rect x="750.79" y="948.7" width="2" height="6.3" fill="#ffffff"/>
<rect x="758.33" y="948.7" width="2" height="6.3" fill="#ffffff"/>
<rect x="765.87" y="948.7" width="2" height="6.3" fill="#ffffff"/>
<rect x="773.41" y="948.7" width="2" height="6.3" fill="#ffffff"/>
<rect x="780.95" y="948.7" width="2" height="6.3" fill="#ffffff"/>
<rect x="788.49" y="948.7" width="2" height="6.3" fill="#ffffff"/>
<rect x="796.03" y="948.7" width="2" height="6.3" fill="#ffffff"/>
<rect x="803.57" y="948.7" width="2" height="6.3" fill="#ffffff"/>
<rect x="811.11" y="948.7" width="2" height="6.3" fill="#ffffff"/>
<rect x="818.65" y="948.7" width="2" height="6.3" fill="#ffffff"/>
<rect x="826.19" y="948.7" width="2" height="6.3" fill="#ffffff"/>
<rect x="833.73" y="948.7" width="2" height="6.3" fill="#ffffff"/>
<rect x="841.28" y="948.7" width="2" height="6.3" fill="#ffffff"/>
<rect x="848.82" y="948.7" width="2" height="6.3" fill="#ffffff"/>
<rect x="856.36" y="948.7" width="2" height="6.3" fill="#ffffff"/>
<rect x="863.9" y="948.7" width="2" height="6.3" fill="#ffffff"/>
<rect x="871.44" y="948.7" width="2" height="6.3" fill="#ffffff"/>
<rect x="878.98" y="948.7" width="2" height="6.3" fill="#ffffff"/>
<rect x="886.52" y="948.7" width="2" height="6.3" fill="#ffffff"/>
<rect x="894.06" y="948.7" width="2" height="6.3" fill="#ffffff"/>
<rect x="901.6" y="948.7" width="2" height="6.3" fill="#ffffff"/>
<rect x="909.14" y="948.7" width="2" height="6.3" fill="#ffffff"/>
<rect x="916.68" y="948.7" width="2" height="6.3" fill="#ffffff"/>
<rect x="924.22" y="948.7" width="2" height="6.3" fill="#ffffff"/>
<rect x="931.76" y="948.7" width="2" height="6.3" fill="#ffffff"/>
<rect x="939.3" y="948.7" width="2" height="6.3" fill="#ffffff"/>
<rect x="946.84" y="948.7" width="2" height="6.3" fill="#ffffff"/>
<rect x="954.38" y="948.7" width="2" height="6.3" fill="#ffffff"/>
<rect x="961.93" y="948.7" width="2" height="6.3" fill="#ffffff"/>
<rect x="969.47" y="948.7" width="2" height="6.3" fill="#ffffff"/>
<rect x="977.01" y="948.7" width="2" height="6.3" fill="#ffffff"/>
<rect x="984.55" y="948.7" width="2" height="6.3" fill="#ffffff"/>
<rect x="992.09" y="948.7" width="2" height="6.3" fill="#ffffff"/>
<rect x="999.63" y="948.7" width="2" height="6.3" fill="#ffffff"/>
<rect x="1007.17" y="948.7" width="2" height="6.3" fill="#ffffff"/>
<rect x="1014.71" y="948.7" width="2" height="6.3" fill="#ffffff"/>
<rect x="1022.25" y="948.7" width="2" height="6.3" fill="#ffffff"/>
<rect x="1029.79" y="948.7" width="2" height="6.3" fill="#ffffff"/>
<rect x="1037.33" y="948.7" width="2" height="6.3" fill="#ffffff"/>
<rect x="1044.87" y="948.7" width="2" height="6.3" fill="#ffffff"/>
<rect x="1052.41" y="948.7" width="2" height="6.3" fill="#ffffff"/>
<rect x="1059.95" y="948.7" width="2" height="6.3" fill="#ffffff"/>
<rect x="1067.49" y="948.7" width="2" height="6.3" fill="#ffffff"/>
<rect x="1075.03" y="948.7" width="2" height="6.3" fill="#ffffff"/>
<rect x="1082.58" y="948.7" width="2" height="6.3" fill="#ffffff"/>
<rect x="1090.12" y="948.7" width="2" height="6.3" fill="#ffffff"/>
<rect x="1097.66" y="948.7" width="2" height="6.3" fill="#ffffff"/>
<rect x="1105.2" y="948.7" width="2" height="6.3" fill="#ffffff"/>
<rect x="1112.74" y="948.7" width="2" height="6.3" fill="#ffffff"/>
<rect x="1120.28" y="948.7" width="2" height="6.3" fill="#ffffff"/>
<rect x="1127.82" y="948.7" width="2" height="6.3" fill="#ffffff"/>
<rect x="1135.36" y="948.7" width="2" height="6.3" fill="#ffffff"/>
<rect x="1142.9" y="948.7" width="2" height="6.3" fill="#ffffff"/>
<rect x="1150.44" y="948.7" width="2" height="6.3" fill="#ffffff"/>
<rect x="1157.98" y="948.7" width="2" height="6.3" fill="#ffffff"/>
<rect x="1165.52" y="948.7" width="2" height="6.3" fill="#ffffff"/>
<rect x="1173.06" y="948.7" width="2" height="6.3" fill="#ffffff"/>
<rect x="660.3" y="901" width="2" height="54" fill="#ffffff"/>
<text x="656.8" y="922.5" text-anchor="end" font-size="23" fill="#fff">1</text>
<rect x="901.6" y="901" width="2" height="54" fill="#ffffff"/>
<text x="898.1" y="922.5" text-anchor="end" font-size="23" fill="#fff">2</text>
<rect x="1142.9" y="901" width="2" height="54" fill="#ffffff"/>
<text x="1139.4" y="922.5" text-anchor="end" font-size="23" fill="#fff">3</text>
<rect x="539.65" y="914" width="2" height="13" fill="#ffffff"/>
<rect x="780.95" y="914" width="2" height="13" fill="#ffffff"/>
<rect x="1022.25" y="914" width="2" height="13" fill="#ffffff"/>
<text x="363.3" y="874" font-size="32" font-weight="bold" fill="#c4c4c4" textLength="44.5" lengthAdjust="spacingAndGlyphs">cm</text>
<text x="341.2" y="924.2" font-size="26.5" font-weight="bold" fill="#c4c4c4" textLength="65.5" lengthAdjust="spacingAndGlyphs">INCH</text>
<text transform="translate(251,843.8) rotate(-90)" font-size="26.5" font-weight="bold" fill="#c4c4c4" textLength="67.2" lengthAdjust="spacingAndGlyphs">INCH</text>
<text transform="translate(332,821) rotate(-90)" font-size="32" font-weight="bold" fill="#c4c4c4" textLength="44" lengthAdjust="spacingAndGlyphs">cm</text>
<rect x="341" y="904.9" width="7.8" height="2.6" fill="#c4c4c4"/>
<rect x="341" y="921.6" width="7.8" height="2.6" fill="#c4c4c4"/>
<rect x="232" y="836" width="2.6" height="7.8" fill="#c4c4c4"/>
<rect x="248.4" y="836" width="2.6" height="7.8" fill="#c4c4c4"/>
<path d="M904.6,148.4 C886.5,161 883,190 903.9,201.3 C897.5,189 896.5,162 904.6,148.4 Z" fill="#6d6d6d"/>
<path d="M 911.2,148.4 C 929.3,161 932.8,190 911.9,201.3 C 918.3,189 919.3,162 911.2,148.4 Z" fill="#6d6d6d"/>
<path d="M876,162 C868,180 873,201 903,207 C885,197.5 878.5,182 876,162 Z" fill="#6d6d6d"/>
<path d="M 939.8,162 C 947.8,180 942.8,201 912.8,207 C 930.8,197.5 937.3,182 939.8,162 Z" fill="#6d6d6d"/>
<path d="M980.2,162.2 C977.5,159.5 974,158.8 970.2,158.8 C964.5,158.8 961,161.5 961,165.8 C961,175.5 979.6,167.8 979.6,177.8 C979.6,182 975.5,184 970,184 C965.5,184 961.5,182.6 959.2,179.6" fill="none" stroke="#6d6d6d" stroke-width="6.4"/>
<path d="M1013.40,171.3 A12.2,12.2 0 1 0 1011.07,178.47" fill="none" stroke="#6d6d6d" stroke-width="6.4"/><rect x="989.00" y="168.60000000000002" width="27.60" height="5.4" fill="#6d6d6d"/>
<path d="M1047.80,171.3 A12.2,12.2 0 1 0 1045.47,178.47" fill="none" stroke="#6d6d6d" stroke-width="6.4"/><rect x="1023.40" y="168.60000000000002" width="27.60" height="5.4" fill="#6d6d6d"/>
<path d="M1081.80,171.3 A12.2,12.2 0 1 0 1079.47,178.47" fill="none" stroke="#6d6d6d" stroke-width="6.4"/><rect x="1057.40" y="168.60000000000002" width="27.60" height="5.4" fill="#6d6d6d"/>
<circle cx="1099.2" cy="171.3" r="12.1" fill="none" stroke="#6d6d6d" stroke-width="6.4"/>
<path d="M1111,150.3 L1117.6,148.6 L1117.6,186.8 L1111,186.8 Z" fill="#6d6d6d"/>
<text transform="translate(1121.6,149.2) rotate(90)" font-size="13.5" fill="#6d6d6d" textLength="37.5" lengthAdjust="spacingAndGlyphs">studio</text>
<text x="957.5" y="204.6" font-size="14.2" font-weight="bold" fill="#6d6d6d" textLength="159.5" lengthAdjust="spacingAndGlyphs">The IoT Hardware Enabler</text>
<path d="M431,261.3 L1037,262.6 Q1051.2,262.8 1051.2,277 L1051.2,384 L1074.2,407.5 L1074.2,718 L1050,742.5 L1050,755 Q1050,763 1042,763 L431,762.5 Q420,762.5 420,751.5 L420,272.3 Q420,261.3 431,261.3 Z" fill="#131215" stroke="#2a2618" stroke-width="1"/>
<rect x="875" y="298" width="6" height="150" fill="#1b1a1f"/>
<rect x="896" y="298" width="12" height="182" fill="#1b1a1f"/>
<rect x="997" y="650" width="8.5" height="49" fill="#24232a"/>
<rect x="1021" y="656" width="9.5" height="43" fill="#24232a"/>
<rect x="578.3" y="269.5" width="254.3" height="26.5" fill="#5590f6"/>
<rect x="602.05" y="271.5" width="6" height="22.5" fill="#6ca6fb"/>
<rect x="585.6" y="274.2" width="14" height="15" fill="#4a80ee"/>
<rect x="626.95" y="271.5" width="6" height="22.5" fill="#6ca6fb"/>
<rect x="610.5" y="274.2" width="14" height="15" fill="#4a80ee"/>
<rect x="651.85" y="271.5" width="6" height="22.5" fill="#6ca6fb"/>
<rect x="635.4" y="274.2" width="14" height="15" fill="#4a80ee"/>
<rect x="676.75" y="271.5" width="6" height="22.5" fill="#6ca6fb"/>
<rect x="660.3" y="274.2" width="14" height="15" fill="#4a80ee"/>
<rect x="701.65" y="271.5" width="6" height="22.5" fill="#6ca6fb"/>
<rect x="685.2" y="274.2" width="14" height="15" fill="#4a80ee"/>
<rect x="726.55" y="271.5" width="6" height="22.5" fill="#6ca6fb"/>
<rect x="710.1" y="274.2" width="14" height="15" fill="#4a80ee"/>
<rect x="751.45" y="271.5" width="6" height="22.5" fill="#6ca6fb"/>
<rect x="735" y="274.2" width="14" height="15" fill="#4a80ee"/>
<rect x="776.35" y="271.5" width="6" height="22.5" fill="#6ca6fb"/>
<rect x="759.9" y="274.2" width="14" height="15" fill="#4a80ee"/>
<rect x="801.25" y="271.5" width="6" height="22.5" fill="#6ca6fb"/>
<rect x="784.8" y="274.2" width="14" height="15" fill="#4a80ee"/>
<rect x="826.15" y="271.5" width="6" height="22.5" fill="#6ca6fb"/>
<rect x="809.7" y="274.2" width="14" height="15" fill="#4a80ee"/>
<rect x="578.3" y="269.5" width="254.3" height="2.6" fill="#86bafd"/>
<rect x="578.3" y="293.8" width="254.3" height="2.2" fill="#7c90d8"/>
<rect x="588.2" y="277.3" width="8.8" height="8.8" fill="#0a0a28"/>
<rect x="613.1" y="277.3" width="8.8" height="8.8" fill="#0a0a28"/>
<rect x="638" y="277.3" width="8.8" height="8.8" fill="#0a0a28"/>
<rect x="662.9" y="277.3" width="8.8" height="8.8" fill="#0a0a28"/>
<rect x="687.8" y="277.3" width="8.8" height="8.8" fill="#0a0a28"/>
<rect x="712.7" y="277.3" width="8.8" height="8.8" fill="#0a0a28"/>
<rect x="737.6" y="277.3" width="8.8" height="8.8" fill="#0a0a28"/>
<rect x="762.5" y="277.3" width="8.8" height="8.8" fill="#0a0a28"/>
<rect x="787.4" y="277.3" width="8.8" height="8.8" fill="#0a0a28"/>
<rect x="812.3" y="277.3" width="8.8" height="8.8" fill="#0a0a28"/>
<rect x="839.5" y="271" width="208" height="25.5" fill="#5590f6"/>
<rect x="865.55" y="273" width="6" height="21.5" fill="#6ca6fb"/>
<rect x="849" y="275.5" width="14" height="15" fill="#4a80ee"/>
<rect x="890.65" y="273" width="6" height="21.5" fill="#6ca6fb"/>
<rect x="874.1" y="275.5" width="14" height="15" fill="#4a80ee"/>
<rect x="915.75" y="273" width="6" height="21.5" fill="#6ca6fb"/>
<rect x="899.2" y="275.5" width="14" height="15" fill="#4a80ee"/>
<rect x="940.85" y="273" width="6" height="21.5" fill="#6ca6fb"/>
<rect x="924.3" y="275.5" width="14" height="15" fill="#4a80ee"/>
<rect x="965.95" y="273" width="6" height="21.5" fill="#6ca6fb"/>
<rect x="949.4" y="275.5" width="14" height="15" fill="#4a80ee"/>
<rect x="991.05" y="273" width="6" height="21.5" fill="#6ca6fb"/>
<rect x="974.5" y="275.5" width="14" height="15" fill="#4a80ee"/>
<rect x="1016.15" y="273" width="6" height="21.5" fill="#6ca6fb"/>
<rect x="999.6" y="275.5" width="14" height="15" fill="#4a80ee"/>
<rect x="1041.25" y="273" width="6" height="21.5" fill="#6ca6fb"/>
<rect x="1024.7" y="275.5" width="14" height="15" fill="#4a80ee"/>
<rect x="839.5" y="271" width="208" height="2.6" fill="#86bafd"/>
<rect x="839.5" y="294.3" width="208" height="2.2" fill="#7c90d8"/>
<rect x="851.6" y="278.6" width="8.8" height="8.8" fill="#0a0a28"/>
<rect x="876.7" y="278.6" width="8.8" height="8.8" fill="#0a0a28"/>
<rect x="901.8" y="278.6" width="8.8" height="8.8" fill="#0a0a28"/>
<rect x="926.9" y="278.6" width="8.8" height="8.8" fill="#0a0a28"/>
<rect x="952" y="278.6" width="8.8" height="8.8" fill="#0a0a28"/>
<rect x="977.1" y="278.6" width="8.8" height="8.8" fill="#0a0a28"/>
<rect x="1002.2" y="278.6" width="8.8" height="8.8" fill="#0a0a28"/>
<rect x="1027.3" y="278.6" width="8.8" height="8.8" fill="#0a0a28"/>
<rect x="669.7" y="728.5" width="203.3" height="32.5" fill="#5590f6"/>
<rect x="693" y="730.5" width="6" height="28.5" fill="#6ca6fb"/>
<rect x="676.6" y="739.1" width="14" height="15" fill="#4a80ee"/>
<rect x="717.8" y="730.5" width="6" height="28.5" fill="#6ca6fb"/>
<rect x="701.4" y="739.1" width="14" height="15" fill="#4a80ee"/>
<rect x="742.6" y="730.5" width="6" height="28.5" fill="#6ca6fb"/>
<rect x="726.2" y="739.1" width="14" height="15" fill="#4a80ee"/>
<rect x="767.4" y="730.5" width="6" height="28.5" fill="#6ca6fb"/>
<rect x="751" y="739.1" width="14" height="15" fill="#4a80ee"/>
<rect x="792.2" y="730.5" width="6" height="28.5" fill="#6ca6fb"/>
<rect x="775.8" y="739.1" width="14" height="15" fill="#4a80ee"/>
<rect x="817" y="730.5" width="6" height="28.5" fill="#6ca6fb"/>
<rect x="800.6" y="739.1" width="14" height="15" fill="#4a80ee"/>
<rect x="841.8" y="730.5" width="6" height="28.5" fill="#6ca6fb"/>
<rect x="825.4" y="739.1" width="14" height="15" fill="#4a80ee"/>
<rect x="866.6" y="730.5" width="6" height="28.5" fill="#6ca6fb"/>
<rect x="850.2" y="739.1" width="14" height="15" fill="#4a80ee"/>
<rect x="669.7" y="728.5" width="203.3" height="4.5" fill="#86bafd"/>
<rect x="669.7" y="758.8" width="203.3" height="2.2" fill="#7c90d8"/>
<rect x="679.2" y="742.2" width="8.8" height="8.8" fill="#0a0a28"/>
<rect x="704" y="742.2" width="8.8" height="8.8" fill="#0a0a28"/>
<rect x="728.8" y="742.2" width="8.8" height="8.8" fill="#0a0a28"/>
<rect x="753.6" y="742.2" width="8.8" height="8.8" fill="#0a0a28"/>
<rect x="778.4" y="742.2" width="8.8" height="8.8" fill="#0a0a28"/>
<rect x="803.2" y="742.2" width="8.8" height="8.8" fill="#0a0a28"/>
<rect x="828" y="742.2" width="8.8" height="8.8" fill="#0a0a28"/>
<rect x="852.8" y="742.2" width="8.8" height="8.8" fill="#0a0a28"/>
<rect x="885" y="731" width="157.3" height="33" fill="#5590f6"/>
<rect x="912.42" y="733" width="6" height="29" fill="#6ca6fb"/>
<rect x="896" y="743.5" width="14" height="15" fill="#4a80ee"/>
<rect x="937.27" y="733" width="6" height="29" fill="#6ca6fb"/>
<rect x="920.85" y="743.5" width="14" height="15" fill="#4a80ee"/>
<rect x="962.12" y="733" width="6" height="29" fill="#6ca6fb"/>
<rect x="945.7" y="743.5" width="14" height="15" fill="#4a80ee"/>
<rect x="986.97" y="733" width="6" height="29" fill="#6ca6fb"/>
<rect x="970.55" y="743.5" width="14" height="15" fill="#4a80ee"/>
<rect x="1011.82" y="733" width="6" height="29" fill="#6ca6fb"/>
<rect x="995.4" y="743.5" width="14" height="15" fill="#4a80ee"/>
<rect x="1036.67" y="733" width="6" height="29" fill="#6ca6fb"/>
<rect x="1020.25" y="743.5" width="14" height="15" fill="#4a80ee"/>
<rect x="885" y="731" width="157.3" height="4.5" fill="#86bafd"/>
<rect x="885" y="761.8" width="157.3" height="2.2" fill="#7c90d8"/>
<rect x="898.6" y="746.6" width="8.8" height="8.8" fill="#0a0a28"/>
<rect x="923.45" y="746.6" width="8.8" height="8.8" fill="#0a0a28"/>
<rect x="948.3" y="746.6" width="8.8" height="8.8" fill="#0a0a28"/>
<rect x="973.15" y="746.6" width="8.8" height="8.8" fill="#0a0a28"/>
<rect x="998" y="746.6" width="8.8" height="8.8" fill="#0a0a28"/>
<rect x="1022.85" y="746.6" width="8.8" height="8.8" fill="#0a0a28"/>
<circle cx="563.3" cy="282.5" r="15.6" fill="#fbfbf6"/>
<circle cx="1052.4" cy="429.3" r="16.8" fill="#fbfbf6"/>
<circle cx="1051.5" cy="694.6" r="16.2" fill="#fbfbf6"/>
<rect x="446.5" y="264.4" width="95.8" height="94.5" fill="none" stroke="#e8e8e8" stroke-width="1.6"/>
<rect x="526" y="265.6" width="15" height="93" fill="#131215"/>
<circle cx="528.3" cy="284" r="5.7" fill="#4a4238" stroke="#c4ad5c" stroke-width="3"/>
<circle cx="528.3" cy="303.2" r="5.7" fill="#4a4238" stroke="#c4ad5c" stroke-width="3"/>
<circle cx="528.3" cy="322.6" r="5.7" fill="#4a4238" stroke="#c4ad5c" stroke-width="3"/>
<rect x="525" y="335.6" width="9.5" height="11.2" fill="#b9a358"/>
<rect x="527" y="338.2" width="5" height="6" fill="#d8cb88"/>
<rect x="447" y="263.6" width="78.5" height="95.8" fill="#f6f6f6"/>
<path d="M446,283.6 L455.5,283.6 L455.5,339.6 L453,339.6 L448,345.6 L446,345.6 Z" fill="#eeeeee"/>
<path d="M446,285.6 L453.6,285.6 L453.6,337.6 L452,337.6 L448,343.6 L446,343.6 Z" fill="#131215"/>
<rect x="455.5" y="284.6" width="3" height="55" fill="#e8e4d8"/>
<rect x="458.4" y="285.6" width="5.8" height="53" fill="#17173a"/>
<rect x="466.6" y="287.1" width="13.7" height="52" fill="#d6d6da"/>
<rect x="467.5" y="287.1" width="3.5" height="52" fill="#e6e6ea"/>
<rect x="472" y="303.6" width="6.5" height="2.6" fill="#8a8a8a"/>
<rect x="472" y="322.6" width="6.5" height="2.6" fill="#8a8a8a"/>
<text x="546.3" y="314.3" font-size="11" font-weight="bold" fill="#d6d6d6" textLength="21.5" lengthAdjust="spacingAndGlyphs">GND</text>
<text x="546.3" y="332.9" font-size="11" font-weight="bold" fill="#d6d6d6" textLength="21.5" lengthAdjust="spacingAndGlyphs">VCC</text>
<text x="546.3" y="350.3" font-size="11" font-weight="bold" fill="#d6d6d6" textLength="14.5" lengthAdjust="spacingAndGlyphs">A4</text>
<text x="546.3" y="368.6" font-size="11" font-weight="bold" fill="#d6d6d6" textLength="14.5" lengthAdjust="spacingAndGlyphs">A3</text>
<rect x="446.5" y="374.5" width="95.8" height="94.5" fill="none" stroke="#e8e8e8" stroke-width="1.6"/>
<rect x="526" y="375.7" width="15" height="93" fill="#131215"/>
<circle cx="528.3" cy="394.1" r="5.7" fill="#4a4238" stroke="#c4ad5c" stroke-width="3"/>
<circle cx="528.3" cy="413.3" r="5.7" fill="#4a4238" stroke="#c4ad5c" stroke-width="3"/>
<circle cx="528.3" cy="432.7" r="5.7" fill="#4a4238" stroke="#c4ad5c" stroke-width="3"/>
<rect x="525" y="445.7" width="9.5" height="11.2" fill="#b9a358"/>
<rect x="527" y="448.3" width="5" height="6" fill="#d8cb88"/>
<rect x="447" y="373.7" width="78.5" height="95.8" fill="#f6f6f6"/>
<path d="M446,393.7 L455.5,393.7 L455.5,449.7 L453,449.7 L448,455.7 L446,455.7 Z" fill="#eeeeee"/>
<path d="M446,395.7 L453.6,395.7 L453.6,447.7 L452,447.7 L448,453.7 L446,453.7 Z" fill="#131215"/>
<rect x="455.5" y="394.7" width="3" height="55" fill="#e8e4d8"/>
<rect x="458.4" y="395.7" width="5.8" height="53" fill="#17173a"/>
<rect x="466.6" y="397.2" width="13.7" height="52" fill="#d6d6da"/>
<rect x="467.5" y="397.2" width="3.5" height="52" fill="#e6e6ea"/>
<rect x="472" y="413.7" width="6.5" height="2.6" fill="#8a8a8a"/>
<rect x="472" y="432.7" width="6.5" height="2.6" fill="#8a8a8a"/>
<text x="546.3" y="398.8" font-size="11" font-weight="bold" fill="#d6d6d6" textLength="21.5" lengthAdjust="spacingAndGlyphs">GND</text>
<text x="546.3" y="416.6" font-size="11" font-weight="bold" fill="#d6d6d6" textLength="21.5" lengthAdjust="spacingAndGlyphs">VCC</text>
<text x="546.3" y="434.6" font-size="11" font-weight="bold" fill="#d6d6d6" textLength="14.5" lengthAdjust="spacingAndGlyphs">A3</text>
<text x="546.3" y="452.6" font-size="11" font-weight="bold" fill="#d6d6d6" textLength="14.5" lengthAdjust="spacingAndGlyphs">A2</text>
<rect x="446.5" y="482.3" width="95.8" height="94.5" fill="none" stroke="#e8e8e8" stroke-width="1.6"/>
<rect x="526" y="483.5" width="15" height="93" fill="#131215"/>
<circle cx="528.3" cy="501.9" r="5.7" fill="#4a4238" stroke="#c4ad5c" stroke-width="3"/>
<circle cx="528.3" cy="521.1" r="5.7" fill="#4a4238" stroke="#c4ad5c" stroke-width="3"/>
<circle cx="528.3" cy="540.5" r="5.7" fill="#4a4238" stroke="#c4ad5c" stroke-width="3"/>
<rect x="525" y="553.5" width="9.5" height="11.2" fill="#b9a358"/>
<rect x="527" y="556.1" width="5" height="6" fill="#d8cb88"/>
<rect x="447" y="481.5" width="78.5" height="95.8" fill="#f6f6f6"/>
<path d="M446,501.5 L455.5,501.5 L455.5,557.5 L453,557.5 L448,563.5 L446,563.5 Z" fill="#eeeeee"/>
<path d="M446,503.5 L453.6,503.5 L453.6,555.5 L452,555.5 L448,561.5 L446,561.5 Z" fill="#131215"/>
<rect x="455.5" y="502.5" width="3" height="55" fill="#e8e4d8"/>
<rect x="458.4" y="503.5" width="5.8" height="53" fill="#17173a"/>
<rect x="466.6" y="505" width="13.7" height="52" fill="#d6d6da"/>
<rect x="467.5" y="505" width="3.5" height="52" fill="#e6e6ea"/>
<rect x="472" y="521.5" width="6.5" height="2.6" fill="#8a8a8a"/>
<rect x="472" y="540.5" width="6.5" height="2.6" fill="#8a8a8a"/>
<text x="546.3" y="507.7" font-size="11" font-weight="bold" fill="#d6d6d6" textLength="21.5" lengthAdjust="spacingAndGlyphs">GND</text>
<text x="546.3" y="524.8" font-size="11" font-weight="bold" fill="#d6d6d6" textLength="21.5" lengthAdjust="spacingAndGlyphs">VCC</text>
<text x="546.3" y="543.3" font-size="11" font-weight="bold" fill="#d6d6d6" textLength="14.5" lengthAdjust="spacingAndGlyphs">A2</text>
<text x="546.3" y="561.2" font-size="11" font-weight="bold" fill="#d6d6d6" textLength="14.5" lengthAdjust="spacingAndGlyphs">A1</text>
<rect x="446.5" y="591.2" width="95.8" height="94.5" fill="none" stroke="#e8e8e8" stroke-width="1.6"/>
<rect x="526" y="592.4" width="15" height="93" fill="#131215"/>
<circle cx="528.3" cy="610.8" r="5.7" fill="#4a4238" stroke="#c4ad5c" stroke-width="3"/>
<circle cx="528.3" cy="630" r="5.7" fill="#4a4238" stroke="#c4ad5c" stroke-width="3"/>
<circle cx="528.3" cy="649.4" r="5.7" fill="#4a4238" stroke="#c4ad5c" stroke-width="3"/>
<rect x="525" y="662.4" width="9.5" height="11.2" fill="#b9a358"/>
<rect x="527" y="665" width="5" height="6" fill="#d8cb88"/>
<rect x="447" y="590.4" width="78.5" height="95.8" fill="#f6f6f6"/>
<path d="M446,610.4 L455.5,610.4 L455.5,666.4 L453,666.4 L448,672.4 L446,672.4 Z" fill="#eeeeee"/>
<path d="M446,612.4 L453.6,612.4 L453.6,664.4 L452,664.4 L448,670.4 L446,670.4 Z" fill="#131215"/>
<rect x="455.5" y="611.4" width="3" height="55" fill="#e8e4d8"/>
<rect x="458.4" y="612.4" width="5.8" height="53" fill="#17173a"/>
<rect x="466.6" y="613.9" width="13.7" height="52" fill="#d6d6da"/>
<rect x="467.5" y="613.9" width="3.5" height="52" fill="#e6e6ea"/>
<rect x="472" y="630.4" width="6.5" height="2.6" fill="#8a8a8a"/>
<rect x="472" y="649.4" width="6.5" height="2.6" fill="#8a8a8a"/>
<text x="546.3" y="614.5" font-size="11" font-weight="bold" fill="#d6d6d6" textLength="21.5" lengthAdjust="spacingAndGlyphs">GND</text>
<text x="546.3" y="632.3" font-size="11" font-weight="bold" fill="#d6d6d6" textLength="21.5" lengthAdjust="spacingAndGlyphs">VCC</text>
<text x="546.3" y="651.2" font-size="11" font-weight="bold" fill="#d6d6d6" textLength="14.5" lengthAdjust="spacingAndGlyphs">A1</text>
<text x="546.3" y="669.2" font-size="11" font-weight="bold" fill="#d6d6d6" textLength="14.5" lengthAdjust="spacingAndGlyphs">A0</text>
<text transform="translate(448,331) rotate(-90)" font-family="Liberation Mono, monospace" font-size="34" fill="#fafafa" stroke="#fafafa" stroke-width="0.35">A3</text>
<text transform="translate(448,440) rotate(-90)" font-family="Liberation Mono, monospace" font-size="34" fill="#fafafa" stroke="#fafafa" stroke-width="0.35">A2</text>
<text transform="translate(448,547.5) rotate(-90)" font-family="Liberation Mono, monospace" font-size="34" fill="#fafafa" stroke="#fafafa" stroke-width="0.35">A1</text>
<text transform="translate(448,656.4) rotate(-90)" font-family="Liberation Mono, monospace" font-size="34" fill="#fafafa" stroke="#fafafa" stroke-width="0.35">A0</text>
<rect x="570.7" y="307.9" width="53" height="97.5" fill="#f6f6f6"/>
<rect x="578.2" y="314.9" width="36.5" height="83.5" fill="#dadad6"/>
<rect x="605.7" y="322.4" width="9" height="68.5" fill="#f6f6f6"/>
<rect x="614.2" y="326.9" width="10" height="12" fill="#131215"/>
<rect x="614.5" y="327.9" width="1.8" height="10" fill="#a8a8a8"/>
<rect x="614.2" y="374.9" width="10" height="12" fill="#131215"/>
<rect x="614.5" y="375.9" width="1.8" height="10" fill="#a8a8a8"/>
<circle cx="594.5" cy="327.9" r="1.5" fill="#a6a6a4"/>
<circle cx="594.5" cy="346.4" r="1.5" fill="#a6a6a4"/>
<circle cx="594.5" cy="365.4" r="1.5" fill="#a6a6a4"/>
<circle cx="594.5" cy="383.9" r="1.5" fill="#a6a6a4"/>
<text x="631.4" y="332" font-size="11.6" font-weight="bold" fill="#d6d6d6" textLength="24.3" lengthAdjust="spacingAndGlyphs">GND</text>
<text x="631.4" y="350.1" font-size="11.6" font-weight="bold" fill="#d6d6d6" textLength="24.3" lengthAdjust="spacingAndGlyphs">VCC</text>
<text x="631.4" y="368.2" font-size="11.6" font-weight="bold" fill="#d6d6d6" textLength="15.5" lengthAdjust="spacingAndGlyphs">D5</text>
<text x="631.4" y="386.3" font-size="11.6" font-weight="bold" fill="#d6d6d6" textLength="15.5" lengthAdjust="spacingAndGlyphs">D4</text>
<text x="603" y="433.9" textLength="45" lengthAdjust="spacingAndGlyphs" text-anchor="middle" font-family="Liberation Mono, monospace" font-size="34" fill="#fafafa" stroke="#fafafa" stroke-width="0.35">D4</text>
<rect x="685.9" y="307.9" width="53" height="97.5" fill="#f6f6f6"/>
<rect x="693.4" y="314.9" width="36.5" height="83.5" fill="#dadad6"/>
<rect x="720.9" y="322.4" width="9" height="68.5" fill="#f6f6f6"/>
<rect x="729.4" y="326.9" width="10" height="12" fill="#131215"/>
<rect x="729.7" y="327.9" width="1.8" height="10" fill="#a8a8a8"/>
<rect x="729.4" y="374.9" width="10" height="12" fill="#131215"/>
<rect x="729.7" y="375.9" width="1.8" height="10" fill="#a8a8a8"/>
<circle cx="709.7" cy="327.9" r="1.5" fill="#a6a6a4"/>
<circle cx="709.7" cy="346.4" r="1.5" fill="#a6a6a4"/>
<circle cx="709.7" cy="365.4" r="1.5" fill="#a6a6a4"/>
<circle cx="709.7" cy="383.9" r="1.5" fill="#a6a6a4"/>
<text x="747" y="332" font-size="11.6" font-weight="bold" fill="#d6d6d6" textLength="24.3" lengthAdjust="spacingAndGlyphs">GND</text>
<text x="747" y="350.1" font-size="11.6" font-weight="bold" fill="#d6d6d6" textLength="24.3" lengthAdjust="spacingAndGlyphs">VCC</text>
<text x="747" y="368.2" font-size="11.6" font-weight="bold" fill="#d6d6d6" textLength="15.5" lengthAdjust="spacingAndGlyphs">D4</text>
<text x="747" y="386.3" font-size="11.6" font-weight="bold" fill="#d6d6d6" textLength="15.5" lengthAdjust="spacingAndGlyphs">D3</text>
<text x="712.8" y="433.9" textLength="45" lengthAdjust="spacingAndGlyphs" text-anchor="middle" font-family="Liberation Mono, monospace" font-size="34" fill="#fafafa" stroke="#fafafa" stroke-width="0.35">D3</text>
<rect x="805" y="307.9" width="53" height="97.5" fill="#f6f6f6"/>
<rect x="812.5" y="314.9" width="36.5" height="83.5" fill="#dadad6"/>
<rect x="840" y="322.4" width="9" height="68.5" fill="#f6f6f6"/>
<rect x="848.5" y="326.9" width="10" height="12" fill="#131215"/>
<rect x="848.8" y="327.9" width="1.8" height="10" fill="#a8a8a8"/>
<rect x="848.5" y="374.9" width="10" height="12" fill="#131215"/>
<rect x="848.8" y="375.9" width="1.8" height="10" fill="#a8a8a8"/>
<circle cx="828.8" cy="327.9" r="1.5" fill="#a6a6a4"/>
<circle cx="828.8" cy="346.4" r="1.5" fill="#a6a6a4"/>
<circle cx="828.8" cy="365.4" r="1.5" fill="#a6a6a4"/>
<circle cx="828.8" cy="383.9" r="1.5" fill="#a6a6a4"/>
<text x="863" y="332" font-size="11.6" font-weight="bold" fill="#d6d6d6" textLength="24.3" lengthAdjust="spacingAndGlyphs">GND</text>
<text x="863" y="350.1" font-size="11.6" font-weight="bold" fill="#d6d6d6" textLength="24.3" lengthAdjust="spacingAndGlyphs">VCC</text>
<text x="863" y="368.2" font-size="11.6" font-weight="bold" fill="#d6d6d6" textLength="15.5" lengthAdjust="spacingAndGlyphs">D3</text>
<text x="863" y="386.3" font-size="11.6" font-weight="bold" fill="#d6d6d6" textLength="15.5" lengthAdjust="spacingAndGlyphs">D2</text>
<text x="828" y="433.9" textLength="45" lengthAdjust="spacingAndGlyphs" text-anchor="middle" font-family="Liberation Mono, monospace" font-size="34" fill="#fafafa" stroke="#fafafa" stroke-width="0.35">D2</text>
<rect x="921" y="307.9" width="53" height="97.5" fill="#f6f6f6"/>
<rect x="928.5" y="314.9" width="36.5" height="83.5" fill="#dadad6"/>
<rect x="956" y="322.4" width="9" height="68.5" fill="#f6f6f6"/>
<rect x="964.5" y="326.9" width="10" height="12" fill="#131215"/>
<rect x="964.8" y="327.9" width="1.8" height="10" fill="#a8a8a8"/>
<rect x="964.5" y="374.9" width="10" height="12" fill="#131215"/>
<rect x="964.8" y="375.9" width="1.8" height="10" fill="#a8a8a8"/>
<circle cx="944.8" cy="327.9" r="1.5" fill="#a6a6a4"/>
<circle cx="944.8" cy="346.4" r="1.5" fill="#a6a6a4"/>
<circle cx="944.8" cy="365.4" r="1.5" fill="#a6a6a4"/>
<circle cx="944.8" cy="383.9" r="1.5" fill="#a6a6a4"/>
<text x="979.3" y="332" font-size="11.6" font-weight="bold" fill="#d6d6d6" textLength="24.3" lengthAdjust="spacingAndGlyphs">GND</text>
<text x="979.3" y="350.1" font-size="11.6" font-weight="bold" fill="#d6d6d6" textLength="24.3" lengthAdjust="spacingAndGlyphs">VCC</text>
<text x="979.3" y="368.2" font-size="11.6" font-weight="bold" fill="#d6d6d6" textLength="15.5" lengthAdjust="spacingAndGlyphs">DX</text>
<text x="979.3" y="386.3" font-size="11.6" font-weight="bold" fill="#d6d6d6" textLength="15.5" lengthAdjust="spacingAndGlyphs">RX</text>
<text x="949" y="433.9" textLength="89" lengthAdjust="spacingAndGlyphs" text-anchor="middle" font-family="Liberation Mono, monospace" font-size="34" fill="#fafafa" stroke="#fafafa" stroke-width="0.35">UART</text>
<rect x="570.7" y="440.2" width="53" height="98.5" fill="#f6f6f6"/>
<rect x="578.2" y="448.7" width="36.5" height="83" fill="#dadad6"/>
<rect x="605.7" y="456.2" width="9" height="68" fill="#f6f6f6"/>
<rect x="614.2" y="459.2" width="10" height="12" fill="#131215"/>
<rect x="614.5" y="460.2" width="1.8" height="10" fill="#a8a8a8"/>
<rect x="614.2" y="507.2" width="10" height="12" fill="#131215"/>
<rect x="614.5" y="508.2" width="1.8" height="10" fill="#a8a8a8"/>
<circle cx="594.5" cy="460.2" r="1.5" fill="#a6a6a4"/>
<circle cx="594.5" cy="478.7" r="1.5" fill="#a6a6a4"/>
<circle cx="594.5" cy="497.7" r="1.5" fill="#a6a6a4"/>
<circle cx="594.5" cy="516.2" r="1.5" fill="#a6a6a4"/>
<text x="631.4" y="464.3" font-size="11.6" font-weight="bold" fill="#d6d6d6" textLength="24.3" lengthAdjust="spacingAndGlyphs">GND</text>
<text x="631.4" y="482.4" font-size="11.6" font-weight="bold" fill="#d6d6d6" textLength="24.3" lengthAdjust="spacingAndGlyphs">VCC</text>
<text x="631.4" y="500.5" font-size="11.6" font-weight="bold" fill="#d6d6d6" textLength="15.5" lengthAdjust="spacingAndGlyphs">D9</text>
<text x="631.4" y="518.6" font-size="11.6" font-weight="bold" fill="#d6d6d6" textLength="15.5" lengthAdjust="spacingAndGlyphs">D8</text>
<text x="602" y="567.7" textLength="45" lengthAdjust="spacingAndGlyphs" text-anchor="middle" font-family="Liberation Mono, monospace" font-size="34" fill="#fafafa" stroke="#fafafa" stroke-width="0.35">D8</text>
<rect x="685.9" y="440.2" width="53" height="98.5" fill="#f6f6f6"/>
<rect x="693.4" y="448.7" width="36.5" height="83" fill="#dadad6"/>
<rect x="720.9" y="456.2" width="9" height="68" fill="#f6f6f6"/>
<rect x="729.4" y="459.2" width="10" height="12" fill="#131215"/>
<rect x="729.7" y="460.2" width="1.8" height="10" fill="#a8a8a8"/>
<rect x="729.4" y="507.2" width="10" height="12" fill="#131215"/>
<rect x="729.7" y="508.2" width="1.8" height="10" fill="#a8a8a8"/>
<circle cx="709.7" cy="460.2" r="1.5" fill="#a6a6a4"/>
<circle cx="709.7" cy="478.7" r="1.5" fill="#a6a6a4"/>
<circle cx="709.7" cy="497.7" r="1.5" fill="#a6a6a4"/>
<circle cx="709.7" cy="516.2" r="1.5" fill="#a6a6a4"/>
<text x="747" y="464.3" font-size="11.6" font-weight="bold" fill="#d6d6d6" textLength="24.3" lengthAdjust="spacingAndGlyphs">GND</text>
<text x="747" y="482.4" font-size="11.6" font-weight="bold" fill="#d6d6d6" textLength="24.3" lengthAdjust="spacingAndGlyphs">VCC</text>
<text x="747" y="500.5" font-size="11.6" font-weight="bold" fill="#d6d6d6" textLength="15.5" lengthAdjust="spacingAndGlyphs">D8</text>
<text x="747" y="518.6" font-size="11.6" font-weight="bold" fill="#d6d6d6" textLength="15.5" lengthAdjust="spacingAndGlyphs">D7</text>
<text x="711" y="567.7" textLength="45" lengthAdjust="spacingAndGlyphs" text-anchor="middle" font-family="Liberation Mono, monospace" font-size="34" fill="#fafafa" stroke="#fafafa" stroke-width="0.35">D7</text>
<rect x="805" y="440.2" width="53" height="98.5" fill="#f6f6f6"/>
<rect x="812.5" y="448.7" width="36.5" height="83" fill="#dadad6"/>
<rect x="840" y="456.2" width="9" height="68" fill="#f6f6f6"/>
<rect x="848.5" y="459.2" width="10" height="12" fill="#131215"/>
<rect x="848.8" y="460.2" width="1.8" height="10" fill="#a8a8a8"/>
<rect x="848.5" y="507.2" width="10" height="12" fill="#131215"/>
<rect x="848.8" y="508.2" width="1.8" height="10" fill="#a8a8a8"/>
<circle cx="828.8" cy="460.2" r="1.5" fill="#a6a6a4"/>
<circle cx="828.8" cy="478.7" r="1.5" fill="#a6a6a4"/>
<circle cx="828.8" cy="497.7" r="1.5" fill="#a6a6a4"/>
<circle cx="828.8" cy="516.2" r="1.5" fill="#a6a6a4"/>
<text x="863" y="464.3" font-size="11.6" font-weight="bold" fill="#d6d6d6" textLength="24.3" lengthAdjust="spacingAndGlyphs">GND</text>
<text x="863" y="482.4" font-size="11.6" font-weight="bold" fill="#d6d6d6" textLength="24.3" lengthAdjust="spacingAndGlyphs">VCC</text>
<text x="863" y="500.5" font-size="11.6" font-weight="bold" fill="#d6d6d6" textLength="15.5" lengthAdjust="spacingAndGlyphs">D7</text>
<text x="863" y="518.6" font-size="11.6" font-weight="bold" fill="#d6d6d6" textLength="15.5" lengthAdjust="spacingAndGlyphs">D6</text>
<text x="827.7" y="567.7" textLength="45" lengthAdjust="spacingAndGlyphs" text-anchor="middle" font-family="Liberation Mono, monospace" font-size="34" fill="#fafafa" stroke="#fafafa" stroke-width="0.35">D6</text>
<rect x="921" y="440.2" width="53" height="98.5" fill="#f6f6f6"/>
<rect x="928.5" y="448.7" width="36.5" height="83" fill="#dadad6"/>
<rect x="956" y="456.2" width="9" height="68" fill="#f6f6f6"/>
<rect x="964.5" y="459.2" width="10" height="12" fill="#131215"/>
<rect x="964.8" y="460.2" width="1.8" height="10" fill="#a8a8a8"/>
<rect x="964.5" y="507.2" width="10" height="12" fill="#131215"/>
<rect x="964.8" y="508.2" width="1.8" height="10" fill="#a8a8a8"/>
<circle cx="944.8" cy="460.2" r="1.5" fill="#a6a6a4"/>
<circle cx="944.8" cy="478.7" r="1.5" fill="#a6a6a4"/>
<circle cx="944.8" cy="497.7" r="1.5" fill="#a6a6a4"/>
<circle cx="944.8" cy="516.2" r="1.5" fill="#a6a6a4"/>
<text x="979.3" y="464.3" font-size="11.6" font-weight="bold" fill="#d6d6d6" textLength="24.3" lengthAdjust="spacingAndGlyphs">GND</text>
<text x="979.3" y="482.4" font-size="11.6" font-weight="bold" fill="#d6d6d6" textLength="24.3" lengthAdjust="spacingAndGlyphs">VCC</text>
<text x="979.3" y="500.5" font-size="11.6" font-weight="bold" fill="#d6d6d6" textLength="15.5" lengthAdjust="spacingAndGlyphs">D6</text>
<text x="979.3" y="518.6" font-size="11.6" font-weight="bold" fill="#d6d6d6" textLength="15.5" lengthAdjust="spacingAndGlyphs">D5</text>
<text x="943.7" y="567.7" textLength="45" lengthAdjust="spacingAndGlyphs" text-anchor="middle" font-family="Liberation Mono, monospace" font-size="34" fill="#fafafa" stroke="#fafafa" stroke-width="0.35">D5</text>
<rect x="570.7" y="571.2" width="53" height="100.5" fill="#f6f6f6"/>
<rect x="578.2" y="581.7" width="36.5" height="83" fill="#dadad6"/>
<rect x="605.7" y="589.2" width="9" height="68" fill="#f6f6f6"/>
<rect x="614.2" y="592.8" width="10" height="12" fill="#131215"/>
<rect x="614.5" y="593.8" width="1.8" height="10" fill="#a8a8a8"/>
<rect x="614.2" y="640.8" width="10" height="12" fill="#131215"/>
<rect x="614.5" y="641.8" width="1.8" height="10" fill="#a8a8a8"/>
<circle cx="594.5" cy="594.2" r="1.5" fill="#a6a6a4"/>
<circle cx="594.5" cy="612.7" r="1.5" fill="#a6a6a4"/>
<circle cx="594.5" cy="631.7" r="1.5" fill="#a6a6a4"/>
<circle cx="594.5" cy="650.2" r="1.5" fill="#a6a6a4"/>
<text x="631.4" y="597.3" font-size="11.6" font-weight="bold" fill="#d6d6d6" textLength="24.3" lengthAdjust="spacingAndGlyphs">GND</text>
<text x="631.4" y="615.4" font-size="11.6" font-weight="bold" fill="#d6d6d6" textLength="24.3" lengthAdjust="spacingAndGlyphs">VCC</text>
<text x="631.4" y="633.5" font-size="11.6" font-weight="bold" fill="#d6d6d6" textLength="24.3" lengthAdjust="spacingAndGlyphs">SDA</text>
<text x="631.4" y="651.6" font-size="11.6" font-weight="bold" fill="#d6d6d6" textLength="24.3" lengthAdjust="spacingAndGlyphs">SCL</text>
<text x="608.5" y="697.8" textLength="59.5" lengthAdjust="spacingAndGlyphs" text-anchor="middle" font-family="Liberation Mono, monospace" font-size="34" fill="#fafafa" stroke="#fafafa" stroke-width="0.35">I2C</text>
<rect x="685.9" y="571.2" width="53" height="100.5" fill="#f6f6f6"/>
<rect x="693.4" y="581.7" width="36.5" height="83" fill="#dadad6"/>
<rect x="720.9" y="589.2" width="9" height="68" fill="#f6f6f6"/>
<rect x="729.4" y="592.8" width="10" height="12" fill="#131215"/>
<rect x="729.7" y="593.8" width="1.8" height="10" fill="#a8a8a8"/>
<rect x="729.4" y="640.8" width="10" height="12" fill="#131215"/>
<rect x="729.7" y="641.8" width="1.8" height="10" fill="#a8a8a8"/>
<circle cx="709.7" cy="594.2" r="1.5" fill="#a6a6a4"/>
<circle cx="709.7" cy="612.7" r="1.5" fill="#a6a6a4"/>
<circle cx="709.7" cy="631.7" r="1.5" fill="#a6a6a4"/>
<circle cx="709.7" cy="650.2" r="1.5" fill="#a6a6a4"/>
<text x="747" y="597.3" font-size="11.6" font-weight="bold" fill="#d6d6d6" textLength="24.3" lengthAdjust="spacingAndGlyphs">GND</text>
<text x="747" y="615.4" font-size="11.6" font-weight="bold" fill="#d6d6d6" textLength="24.3" lengthAdjust="spacingAndGlyphs">VCC</text>
<text x="747" y="633.5" font-size="11.6" font-weight="bold" fill="#d6d6d6" textLength="24.3" lengthAdjust="spacingAndGlyphs">SDA</text>
<text x="747" y="651.6" font-size="11.6" font-weight="bold" fill="#d6d6d6" textLength="24.3" lengthAdjust="spacingAndGlyphs">SCL</text>
<text x="712.5" y="698.4" textLength="59.5" lengthAdjust="spacingAndGlyphs" text-anchor="middle" font-family="Liberation Mono, monospace" font-size="34" fill="#fafafa" stroke="#fafafa" stroke-width="0.35">I2C</text>
<rect x="805" y="571.2" width="53" height="100.5" fill="#f6f6f6"/>
<rect x="812.5" y="581.7" width="36.5" height="83" fill="#dadad6"/>
<rect x="840" y="589.2" width="9" height="68" fill="#f6f6f6"/>
<rect x="848.5" y="592.8" width="10" height="12" fill="#131215"/>
<rect x="848.8" y="593.8" width="1.8" height="10" fill="#a8a8a8"/>
<rect x="848.5" y="640.8" width="10" height="12" fill="#131215"/>
<rect x="848.8" y="641.8" width="1.8" height="10" fill="#a8a8a8"/>
<circle cx="828.8" cy="594.2" r="1.5" fill="#a6a6a4"/>
<circle cx="828.8" cy="612.7" r="1.5" fill="#a6a6a4"/>
<circle cx="828.8" cy="631.7" r="1.5" fill="#a6a6a4"/>
<circle cx="828.8" cy="650.2" r="1.5" fill="#a6a6a4"/>
<text x="863" y="597.3" font-size="11.6" font-weight="bold" fill="#d6d6d6" textLength="24.3" lengthAdjust="spacingAndGlyphs">GND</text>
<text x="863" y="615.4" font-size="11.6" font-weight="bold" fill="#d6d6d6" textLength="24.3" lengthAdjust="spacingAndGlyphs">VCC</text>
<text x="863" y="633.5" font-size="11.6" font-weight="bold" fill="#d6d6d6" textLength="24.3" lengthAdjust="spacingAndGlyphs">SDA</text>
<text x="863" y="651.6" font-size="11.6" font-weight="bold" fill="#d6d6d6" textLength="24.3" lengthAdjust="spacingAndGlyphs">SCL</text>
<text x="828.4" y="699.8" textLength="59.5" lengthAdjust="spacingAndGlyphs" text-anchor="middle" font-family="Liberation Mono, monospace" font-size="34" fill="#fafafa" stroke="#fafafa" stroke-width="0.35">I2C</text>
<rect x="921" y="571.2" width="53" height="100.5" fill="#f6f6f6"/>
<rect x="928.5" y="581.7" width="36.5" height="83" fill="#dadad6"/>
<rect x="956" y="589.2" width="9" height="68" fill="#f6f6f6"/>
<rect x="964.5" y="592.8" width="10" height="12" fill="#131215"/>
<rect x="964.8" y="593.8" width="1.8" height="10" fill="#a8a8a8"/>
<rect x="964.5" y="640.8" width="10" height="12" fill="#131215"/>
<rect x="964.8" y="641.8" width="1.8" height="10" fill="#a8a8a8"/>
<circle cx="944.8" cy="594.2" r="1.5" fill="#a6a6a4"/>
<circle cx="944.8" cy="612.7" r="1.5" fill="#a6a6a4"/>
<circle cx="944.8" cy="631.7" r="1.5" fill="#a6a6a4"/>
<circle cx="944.8" cy="650.2" r="1.5" fill="#a6a6a4"/>
<text x="979.3" y="597.3" font-size="11.6" font-weight="bold" fill="#d6d6d6" textLength="24.3" lengthAdjust="spacingAndGlyphs">GND</text>
<text x="979.3" y="615.4" font-size="11.6" font-weight="bold" fill="#d6d6d6" textLength="24.3" lengthAdjust="spacingAndGlyphs">VCC</text>
<text x="979.3" y="633.5" font-size="11.6" font-weight="bold" fill="#d6d6d6" textLength="24.3" lengthAdjust="spacingAndGlyphs">SDA</text>
<text x="979.3" y="651.6" font-size="11.6" font-weight="bold" fill="#d6d6d6" textLength="24.3" lengthAdjust="spacingAndGlyphs">SCL</text>
<text x="943.7" y="700.2" textLength="59.5" lengthAdjust="spacingAndGlyphs" text-anchor="middle" font-family="Liberation Mono, monospace" font-size="34" fill="#fafafa" stroke="#fafafa" stroke-width="0.35">I2C</text>
<rect x="1015.5" y="466" width="50" height="72" fill="none" stroke="#e6e6ee" stroke-width="1.8"/>
<circle cx="1029" cy="477.7" r="7.2" fill="#a8a27a"/>
<circle cx="1028" cy="476.2" r="4.5" fill="#c9c6b5"/>
<circle cx="1029" cy="502.3" r="7.2" fill="#a8a27a"/>
<circle cx="1028" cy="500.8" r="4.5" fill="#c9c6b5"/>
<circle cx="1029" cy="526.9" r="7.2" fill="#a8a27a"/>
<circle cx="1028" cy="525.4" r="4.5" fill="#c9c6b5"/>
<circle cx="1053" cy="477.7" r="7.2" fill="#a8a27a"/>
<circle cx="1052" cy="476.2" r="4.5" fill="#c9c6b5"/>
<circle cx="1053" cy="502.3" r="7.2" fill="#a8a27a"/>
<circle cx="1052" cy="500.8" r="4.5" fill="#c9c6b5"/>
<circle cx="1053" cy="526.9" r="7.2" fill="#a8a27a"/>
<circle cx="1052" cy="525.4" r="4.5" fill="#c9c6b5"/>
<text x="1028" y="461" font-size="14.5" font-weight="bold" fill="#d6d6d6" textLength="23.5" lengthAdjust="spacingAndGlyphs">ISP</text>
<rect x="993.5" y="702.5" width="17.5" height="21" fill="none" stroke="#d8d8e8" stroke-width="1.5"/>
<rect x="997.5" y="706" width="9.5" height="6" fill="#b9a358"/>
<rect x="997.5" y="714" width="9.5" height="6" fill="#b9a358"/>
<rect x="1018" y="702.5" width="17.5" height="21" fill="none" stroke="#d8d8e8" stroke-width="1.5"/>
<rect x="1022" y="706" width="9.5" height="6" fill="#b9a358"/>
<rect x="1022" y="714" width="9.5" height="6" fill="#b9a358"/>
<text transform="translate(1009,699) rotate(-90)" font-size="9" font-weight="bold" fill="#d6d6d6">P1</text>
<text transform="translate(1034,699) rotate(-90)" font-size="9" font-weight="bold" fill="#d6d6d6">P2</text>
<text x="423" y="702.5" font-family="Liberation Mono, monospace" font-size="17.5" fill="#d6d6d6" textLength="111" lengthAdjust="spacingAndGlyphs">3V3 VCC 5V</text>
<rect x="456" y="702" width="10" height="1.7" fill="#d6d6d6"/>
<rect x="501" y="702" width="10" height="1.7" fill="#d6d6d6"/>
<path d="M432,710 L432,742" stroke="#bdbdbd" stroke-width="1.2"/>
<path d="M521,711 L521,745" stroke="#bdbdbd" stroke-width="1.4"/>
<circle cx="453.3" cy="709" r="6.3" fill="#b9a358"/>
<circle cx="453.3" cy="746.5" r="6.3" fill="#b9a358"/>
<circle cx="478.6" cy="709" r="6.3" fill="#b9a358"/>
<circle cx="478.6" cy="746.5" r="6.3" fill="#b9a358"/>
<circle cx="502.9" cy="709" r="6.3" fill="#b9a358"/>
<circle cx="502.9" cy="746.5" r="6.3" fill="#b9a358"/>
<path d="M441.5,711.4 L510,711.4 L518.1,719.5 L518.1,737 L510,744.8 L441,744.8 L433.3,737 L433.3,718.5 Z" fill="#bdb6b2"/>
<path d="M441.5,711.4 L436,716.5 L436,740 L441,744.8 L444,744.8 L439,739.5 L439,717 L444,711.4 Z" fill="#e8e4e2"/>
<rect x="478" y="750.5" width="15.3" height="22.4" fill="#1d181d"/>
<rect x="469.5" y="747" width="1.8" height="13" fill="#d0d0d0"/>
<text transform="translate(556,688) rotate(-90)" font-size="10" font-weight="bold" fill="#d6d6d6">R2</text>
<text transform="translate(574,688) rotate(-90)" font-size="10" font-weight="bold" fill="#d6d6d6">R1</text>
<rect x="543" y="688" width="16" height="31.5" fill="none" stroke="#d8d8d8" stroke-width="1.2"/>
<rect x="546" y="692" width="10" height="7" fill="#d0d0d0"/>
<rect x="546" y="708" width="10" height="7" fill="#777"/>
<rect x="561.7" y="688" width="16" height="31.5" fill="none" stroke="#d8d8d8" stroke-width="1.2"/>
<rect x="564.7" y="692" width="10" height="7" fill="#d0d0d0"/>
<rect x="564.7" y="708" width="10" height="7" fill="#777"/>
<text x="580.5" y="722" font-family="Liberation Mono, monospace" font-size="17.5" fill="#d6d6d6" textLength="31.5" lengthAdjust="spacingAndGlyphs">RST</text>
<ellipse cx="547" cy="762" rx="4.8" ry="4" fill="#1a1a1a"/>
<ellipse cx="589.5" cy="762" rx="4.5" ry="4" fill="#1a1a1a"/>
<rect x="552.6" y="758" width="30.5" height="13.4" fill="#e6e6e4"/>
<rect x="532.6" y="727.2" width="73.8" height="34" fill="none" stroke="#cfcfd4" stroke-width="1.3"/>
<rect x="535.5" y="730" width="68" height="30" fill="#25252c"/>
<rect x="537.4" y="739" width="9.6" height="3" fill="#e8e8e8"/>
<rect x="586.9" y="739" width="8.6" height="3" fill="#e8e8e8"/>
<path d="M598,735 A6,6 0 0 1 598,746" fill="none" stroke="#a09860" stroke-width="1.5"/>
<ellipse cx="635" cy="740.2" rx="16.8" ry="19.8" fill="none" stroke="#d6efd2" stroke-width="2.6" stroke-dasharray="30 27.7" stroke-dashoffset="-13.8"/>
<path d="M649,733 L655,740 L649,746 Z" fill="#b8c070"/>
<ellipse cx="634.5" cy="741" rx="17.5" ry="15.5" fill="#72e672"/>
<ellipse cx="633" cy="740" rx="10" ry="9" fill="#8cf08a"/>
<text transform="translate(667.5,759.5) rotate(-90)" font-size="13" font-weight="bold" fill="#d6d6d6" textLength="31.5" lengthAdjust="spacingAndGlyphs">PWR</text>
<text transform="translate(834,276) rotate(90)" font-size="9" font-weight="bold" fill="#d6d6d6">10</text>
<text transform="translate(874,733) rotate(90)" font-size="8" font-weight="bold" fill="#d6d6d6">11</text>
<text transform="translate(881,733) rotate(90)" font-size="8" font-weight="bold" fill="#d6d6d6">10</text>
</svg>
</body></html>
